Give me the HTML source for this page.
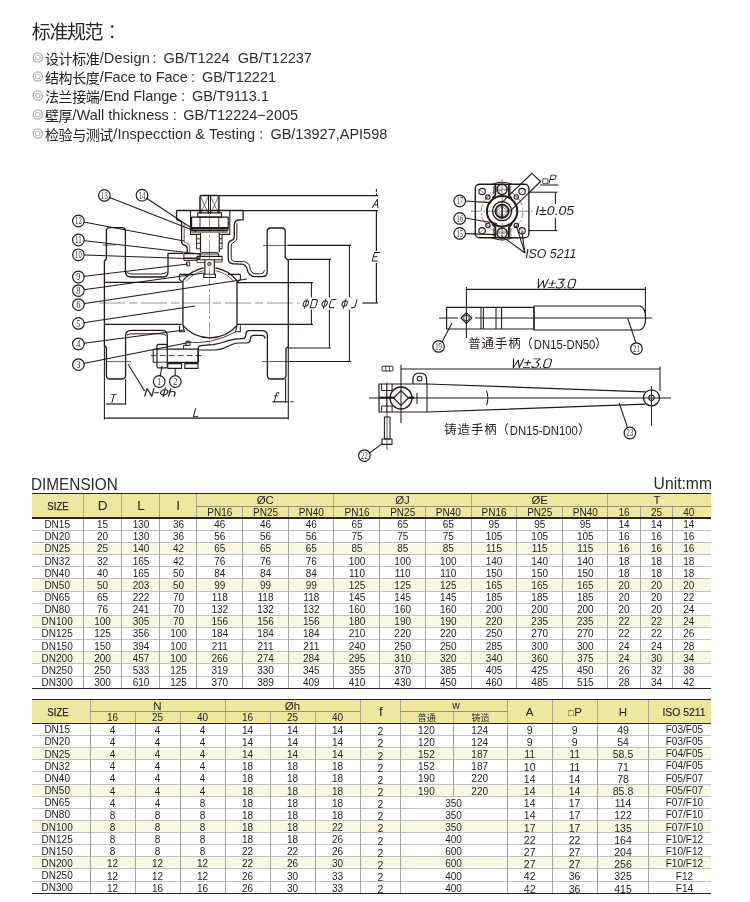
<!DOCTYPE html>
<html><head><meta charset="utf-8"><title>Ball valve spec</title>
<style>
html,body{margin:0;padding:0;background:#fff}
body{width:750px;height:902px;position:relative;overflow:hidden;will-change:transform;font-family:"Liberation Sans",sans-serif;color:#333}
.a{position:absolute;white-space:nowrap}
.t{position:absolute;white-space:nowrap;font-size:14.5px;line-height:18px;color:#2e2e2e}
.c{position:absolute;white-space:nowrap;text-align:center;transform:translateX(-50%);font-size:10px;line-height:12px;color:#1e1e1e}
.hd{position:absolute;background:#ede79f}
.sh{position:absolute;background:#f9f8e5}
.ln{position:absolute;background:#c0c0c0}
.dk{position:absolute;background:#2a2424}
.cj{position:absolute;white-space:nowrap;font-family:"Liberation Sans","Noto Sans CJK SC",sans-serif;font-size:14px;line-height:16.8px;letter-spacing:-0.42px;color:#202020}
</style></head><body>

<div class="a" style="left:31.8px;top:20.7px;font-family:'Liberation Sans','Noto Sans CJK SC',sans-serif;font-size:19px;line-height:24px;letter-spacing:-1.4px;color:#262626">标准规范</div>
<svg class="a" style="left:106px;top:24px" width="8" height="16" viewBox="0 0 8 16"><circle cx="6.2" cy="2.6" r="1.25" fill="#262626"/><circle cx="6.2" cy="13.0" r="1.25" fill="#262626"/></svg>
<svg class="a" style="left:32.4px;top:50.9px" width="12" height="13" viewBox="0 0 12 13"><circle cx="5.8" cy="6.5" r="4.6" fill="none" stroke="#b0b0b0" stroke-width="1.4"/><circle cx="5.8" cy="6.5" r="2.3" fill="none" stroke="#c2c2c2" stroke-width="1.1"/></svg>
<div class="cj" style="left:45.00px;top:50.58px">设计标准</div>
<div class="t" style="left:99.7px;top:48.8px;letter-spacing:0.15px">/Design</div>
<div class="t" style="left:152.4px;top:48.8px">:</div>
<div class="t" style="left:163.6px;top:48.8px">GB/T1224&nbsp; GB/T12237</div>
<svg class="a" style="left:32.4px;top:69.9px" width="12" height="13" viewBox="0 0 12 13"><circle cx="5.8" cy="6.5" r="4.6" fill="none" stroke="#b0b0b0" stroke-width="1.4"/><circle cx="5.8" cy="6.5" r="2.3" fill="none" stroke="#c2c2c2" stroke-width="1.1"/></svg>
<div class="cj" style="left:45.00px;top:69.58px">结构长度</div>
<div class="t" style="left:99.7px;top:67.8px;letter-spacing:-0.05px">/Face to Face</div>
<div class="t" style="left:190.9px;top:67.8px">:</div>
<div class="t" style="left:201.9px;top:67.8px">GB/T12221</div>
<svg class="a" style="left:32.4px;top:88.9px" width="12" height="13" viewBox="0 0 12 13"><circle cx="5.8" cy="6.5" r="4.6" fill="none" stroke="#b0b0b0" stroke-width="1.4"/><circle cx="5.8" cy="6.5" r="2.3" fill="none" stroke="#c2c2c2" stroke-width="1.1"/></svg>
<div class="cj" style="left:45.00px;top:88.58px">法兰接端</div>
<div class="t" style="left:99.7px;top:86.8px;letter-spacing:-0.05px">/End Flange</div>
<div class="t" style="left:180.9px;top:86.8px">:</div>
<div class="t" style="left:191.9px;top:86.8px">GB/T9113.1</div>
<svg class="a" style="left:32.4px;top:107.9px" width="12" height="13" viewBox="0 0 12 13"><circle cx="5.8" cy="6.5" r="4.6" fill="none" stroke="#b0b0b0" stroke-width="1.4"/><circle cx="5.8" cy="6.5" r="2.3" fill="none" stroke="#c2c2c2" stroke-width="1.1"/></svg>
<div class="cj" style="left:45.00px;top:107.58px">壁厚</div>
<div class="t" style="left:72.6px;top:105.8px;letter-spacing:0px">/Wall thickness</div>
<div class="t" style="left:172.7px;top:105.8px">:</div>
<div class="t" style="left:183.2px;top:105.8px">GB/T12224&#8722;2005</div>
<svg class="a" style="left:32.4px;top:127.1px" width="12" height="13" viewBox="0 0 12 13"><circle cx="5.8" cy="6.5" r="4.6" fill="none" stroke="#b0b0b0" stroke-width="1.4"/><circle cx="5.8" cy="6.5" r="2.3" fill="none" stroke="#c2c2c2" stroke-width="1.1"/></svg>
<div class="cj" style="left:45.00px;top:126.78px">检验与测试</div>
<div class="t" style="left:113.3px;top:125.0px;letter-spacing:0.05px">/Inspecction &amp; Testing</div>
<div class="t" style="left:259.2px;top:125.0px">:</div>
<div class="t" style="left:270.4px;top:125.0px">GB/13927,API598</div>
<svg class="a" style="left:0;top:0" width="750" height="902" viewBox="0 0 750 902" stroke-linecap="butt" stroke-linejoin="round">
<line x1="99" y1="303.0" x2="300" y2="303.0" stroke="#6e6662" stroke-width="0.71" stroke-dasharray="26 4 8 4"/>
<line x1="209.5" y1="214" x2="209.5" y2="345" stroke="#5a524e" stroke-width="0.59" stroke-dasharray="18 3 3 3"/>
<path d="M106.4,231 Q106.4,227.6 109.8,227.6 L122,227.6 Q125.4,227.6 125.4,231 L125.4,271 Q125.4,277 131.4,277 L163,277 Q168,277 168,272 L168,253.4 L183,253.4" fill="none" stroke="#231a17" stroke-width="1.30" />
<path d="M126.6,272.4 Q129,274 133,274 L160.5,274 Q164.6,274 166.8,272" fill="none" stroke="#231a17" stroke-width="1.00" />
<path d="M106.4,231 L106.4,259 L104.4,261 L104.4,345.5 L106.4,347.5 L106.4,375.6 Q106.4,379 109.8,379 L122,379 Q125.6,379 125.6,375.6 L125.6,336 Q125.6,330.4 131.2,330.4 L162,330.4 Q167.3,330.4 167.3,335.6 L167.3,349" fill="none" stroke="#231a17" stroke-width="1.30" />
<path d="M126.8,335.2 Q129,333.8 132.6,333.8 L160.4,333.8 Q164.2,333.8 166.2,335.6" fill="none" stroke="#231a17" stroke-width="1.00" />
<line x1="104.4" y1="282.4" x2="181.6" y2="282.4" stroke="#231a17" stroke-width="1.18"/>
<line x1="104.4" y1="324.4" x2="181.6" y2="324.4" stroke="#231a17" stroke-width="1.18"/>
<line x1="103" y1="245" x2="116" y2="245" stroke="#231a17" stroke-width="0.71"/>
<line x1="107" y1="361.6" x2="131" y2="361.6" stroke="#231a17" stroke-width="0.71"/>
<line x1="182.9" y1="281" x2="182.9" y2="325.5" stroke="#231a17" stroke-width="1.30"/>
<line x1="237" y1="281" x2="237" y2="325.5" stroke="#231a17" stroke-width="1.30"/>
<path d="M182.9,280.6 A35.7,35.7 0 0 1 203.8,267.8" fill="none" stroke="#231a17" stroke-width="1.30" />
<path d="M215.4,267.8 A35.7,35.7 0 0 1 237,280.6" fill="none" stroke="#231a17" stroke-width="1.30" />
<path d="M182.9,325.4 A35.7,35.7 0 0 0 237,325.4" fill="none" stroke="#231a17" stroke-width="1.30" />
<path d="M186,281.6 A33,33 0 0 1 203.8,270.6" fill="none" stroke="#231a17" stroke-width="0.71" />
<path d="M215.4,270.6 A33,33 0 0 1 234,281.6" fill="none" stroke="#231a17" stroke-width="0.71" />
<path d="M179.4,274.4 L179.4,279.5 L182.9,282.4 M179.4,274.4 L193,274.4" fill="none" stroke="#231a17" stroke-width="1.06" />
<path d="M240.4,274.4 L240.4,279.5 L237,282.4 M240.4,274.4 L228,274.4" fill="none" stroke="#231a17" stroke-width="1.06" />
<path d="M179.5,325.6 L179.5,331.8 L184.5,331.8 L182.9,325.6" fill="none" stroke="#231a17" stroke-width="1.06" />
<path d="M240.3,325.6 L240.3,331.8 L235.5,331.8 L237,325.6" fill="none" stroke="#231a17" stroke-width="1.06" />
<line x1="237" y1="282.6" x2="313" y2="282.6" stroke="#231a17" stroke-width="1.18"/>
<line x1="237" y1="324.4" x2="313" y2="324.4" stroke="#231a17" stroke-width="1.18"/>
<path d="M243.1,210.5 L243.1,219.6 L238.5,220 Q234.3,220.6 234.3,225 L234.3,236.4 Q234.3,239.4 231.6,240.4 Q228.2,241.6 228.2,245 L228.2,258.6 Q228.2,263.8 233.4,263.9 L241.5,264.1 Q246,264.4 247,268.6 Q248.4,276.6 255,276.6 L262,276.6 Q267.2,276.6 267.2,271.4 L267.2,231.4 Q267.2,228 270.6,228 L281.8,228 Q285.2,228 285.2,231.4 L285.2,257.6 L288.3,260.4 L288.3,346.4 L286,348.4 L286,375.6 Q286,379 282.6,379 L270.8,379 Q267.4,379 267.4,375.6 L267.4,336 Q267.4,330.7 262,330.7 L249.2,330.7 Q246.4,330.7 246.1,333 L245.6,336 Q245.3,338.5 242.7,338.7 L234.6,339.2 Q229,340.2 224,342 Q219,343.8 213.3,344.7 L203,345.3 Q199.6,345.6 198.3,346.8" fill="none" stroke="#231a17" stroke-width="1.30" />
<path d="M236.9,223.2 L236.9,237.6 Q236.9,240.8 234.2,242 Q231.2,243.2 231.2,246 L231.2,257.4 Q231.2,261.4 235.4,261.5 L243.5,261.7 Q248.6,262 249.6,266.6 Q250.6,273.8 256,273.8 L260.4,273.8 Q264.4,273.8 264.4,270" fill="none" stroke="#231a17" stroke-width="1.00" />
<path d="M198.3,350 L214.7,350 Q220,349.6 224.6,347.8 Q229.4,345.6 233.3,344 Q236,343 238.7,343 L246.7,343 Q250,342.8 250.3,340 L250.7,337.6 Q251,335.3 253.8,335.3 L261.4,335.3 Q264.9,335.3 265.1,338.6" fill="none" stroke="#231a17" stroke-width="1.24" />
<line x1="198.3" y1="346.8" x2="198.3" y2="362.4" stroke="#231a17" stroke-width="1.18"/>
<path d="M187,342 Q209.6,345.4 235.6,332" fill="none" stroke="#231a17" stroke-width="0.83" />
<rect x="186" y="341.3" width="4" height="4" rx="0" fill="none" stroke="#231a17" stroke-width="1.00"/>
<path d="M186,345.3 L183.6,345.3 L183.6,348.8" fill="none" stroke="#231a17" stroke-width="1.00" />
<line x1="263" y1="245.4" x2="351" y2="245.4" stroke="#231a17" stroke-width="0.71"/>
<line x1="262" y1="361.5" x2="351" y2="361.5" stroke="#231a17" stroke-width="0.71"/>
<line x1="176.6" y1="210.5" x2="243.1" y2="210.5" stroke="#231a17" stroke-width="1.30"/>
<path d="M177.4,210.5 Q176.6,210.5 176.6,211.6 L176.6,219.4 L181.6,221.8 L181.6,241.6 Q181.6,244.6 184.4,245.2 Q187.2,245.8 187.2,248.4 L187.2,252.4" fill="none" stroke="#231a17" stroke-width="1.30" />
<path d="M184.2,223.4 L184.2,240.8 Q184.2,242.8 186.8,243.4 Q189.8,244 189.8,246.6 L189.8,252" fill="none" stroke="#231a17" stroke-width="0.71" />
<path d="M190.5,210.5 L190.5,234.4 L199.4,234.4 M229.8,210.5 L229.8,234.4 L222.1,234.4" fill="none" stroke="#231a17" stroke-width="1.06" />
<path d="M199.9,213 L199.9,197 Q199.9,195.5 201.4,195.5 L217.5,195.5 Q219,195.5 219,197 L219,213" fill="none" stroke="#231a17" stroke-width="1.30" />
<line x1="200.6" y1="196.6" x2="208.2" y2="213.4" stroke="#231a17" stroke-width="0.59"/>
<line x1="208.2" y1="196.6" x2="200.6" y2="213.4" stroke="#231a17" stroke-width="0.59"/>
<line x1="210.6" y1="196.6" x2="218.4" y2="213.4" stroke="#231a17" stroke-width="0.59"/>
<line x1="218.4" y1="196.6" x2="210.6" y2="213.4" stroke="#231a17" stroke-width="0.59"/>
<line x1="208.5" y1="196" x2="208.5" y2="214" stroke="#231a17" stroke-width="1.06"/>
<line x1="210.4" y1="196" x2="210.4" y2="214" stroke="#231a17" stroke-width="1.06"/>
<line x1="200.7" y1="196" x2="200.7" y2="213.5" stroke="#231a17" stroke-width="0.59"/>
<line x1="218.3" y1="196" x2="218.3" y2="213.5" stroke="#231a17" stroke-width="0.59"/>
<rect x="197.7" y="212.9" width="23.8" height="4.2" rx="0" fill="none" stroke="#231a17" stroke-width="1.06"/>
<rect x="191.6" y="217.1" width="36.6" height="10.6" rx="0" fill="none" stroke="#231a17" stroke-width="1.18"/>
<line x1="200" y1="217.1" x2="200" y2="227.7" stroke="#231a17" stroke-width="0.94"/>
<line x1="218.8" y1="217.1" x2="218.8" y2="227.7" stroke="#231a17" stroke-width="0.94"/>
<line x1="189.8" y1="228.6" x2="228.9" y2="228.6" stroke="#231a17" stroke-width="1.53"/>
<line x1="190.4" y1="230.3" x2="228.4" y2="230.3" stroke="#231a17" stroke-width="1.53"/>
<line x1="191.2" y1="232" x2="227.6" y2="232" stroke="#231a17" stroke-width="1.18"/>
<line x1="200.5" y1="233" x2="200.5" y2="252.4" stroke="#231a17" stroke-width="1.18"/>
<line x1="219.3" y1="233" x2="219.3" y2="252.4" stroke="#231a17" stroke-width="1.18"/>
<path d="M200.5,234.4 L196.6,234.4 L196.6,248.8 L200.5,248.8 M196.6,238.8 L200.5,238.8 M196.6,243.2 L200.5,243.2" fill="none" stroke="#231a17" stroke-width="0.94" />
<path d="M219.3,234.4 L222.1,234.4 L222.1,248.8 L219.3,248.8 M219.3,238.8 L222.1,238.8 M219.3,243.2 L222.1,243.2" fill="none" stroke="#231a17" stroke-width="0.94" />
<path d="M201.6,252.4 L217.2,252.4 M200.2,254 L218.6,254 M201.6,252.4 L200.2,254 M217.2,252.4 L218.6,254 M200.2,254 L200.2,256.4 M218.6,254 L218.6,256.4" fill="none" stroke="#231a17" stroke-width="0.94" />
<rect x="183.9" y="253.6" width="16.2" height="4.5" rx="0" fill="none" stroke="#231a17" stroke-width="1.06"/>
<rect x="197.1" y="256.4" width="25" height="3.4" rx="0" fill="none" stroke="#231a17" stroke-width="1.06"/>
<path d="M183.9,258.1 L183.9,260.4 L197,260.4" fill="none" stroke="#231a17" stroke-width="0.94" />
<path d="M204.9,259.8 L204.9,274.2 L203.8,274.2 L203.8,277.5 L215.4,277.5 L215.4,274.2 L214.3,274.2 L214.3,259.8" fill="none" stroke="#231a17" stroke-width="1.18" />
<line x1="204.9" y1="274.2" x2="214.3" y2="274.2" stroke="#231a17" stroke-width="0.83"/>
<circle cx="209.4" cy="264" r="1.7" fill="none" stroke="#231a17" stroke-width="0.94"/>
<rect x="186.6" y="262" width="3.1" height="3.9" rx="0" fill="none" stroke="#231a17" stroke-width="0.94"/>
<path d="M197.1,259.8 L197.1,262.6 L204.9,262.6 M222.1,259.8 L222.1,262 L214.3,262" fill="none" stroke="#231a17" stroke-width="0.83" />
<rect x="157" y="344.4" width="10.3" height="23.5" rx="1.2" fill="none" stroke="#231a17" stroke-width="1.18"/>
<line x1="157" y1="349.2" x2="167.3" y2="349.2" stroke="#231a17" stroke-width="0.83"/>
<line x1="157" y1="362.2" x2="167.3" y2="362.2" stroke="#231a17" stroke-width="0.83"/>
<path d="M157,349.2 L153.2,349.2 L153.2,362.2 L157,362.2" fill="none" stroke="#231a17" stroke-width="1.06" />
<path d="M167.3,349.1 L198,349.1 L198,362.4 L167.3,362.4" fill="none" stroke="#231a17" stroke-width="1.18" />
<line x1="150.7" y1="355.6" x2="205" y2="355.6" stroke="#231a17" stroke-width="0.83" stroke-dasharray="6 3"/>
<rect x="167.8" y="363.6" width="13.8" height="4.8" rx="0" fill="none" stroke="#231a17" stroke-width="1.06"/>
<rect x="184.8" y="363.6" width="13.2" height="4.8" rx="0" fill="none" stroke="#231a17" stroke-width="1.06"/>
<line x1="219" y1="195.6" x2="378" y2="195.6" stroke="#231a17" stroke-width="1.18"/>
<line x1="243.1" y1="210.6" x2="378" y2="210.6" stroke="#231a17" stroke-width="1.18"/>
<line x1="376.4" y1="189" x2="376.4" y2="196" stroke="#231a17" stroke-width="1.06" stroke-dasharray="3 1.5"/>
<line x1="376.4" y1="210.6" x2="376.4" y2="251" stroke="#231a17" stroke-width="1.18"/>
<line x1="376.4" y1="263" x2="376.4" y2="303" stroke="#231a17" stroke-width="1.18"/>
<line x1="362.4" y1="303" x2="378" y2="303" stroke="#231a17" stroke-width="1.18"/>
<g transform="translate(372.20 207.60) skewX(-15) scale(0.8300 0.8300) translate(0 -10)" fill="none" stroke="#231a17" stroke-width="1.145" stroke-linecap="round" stroke-linejoin="round"><path transform="translate(0.00 0)" d="M0,10 L3.4,0 L6.8,10 M1.2,6.6 L5.6,6.6"/></g>
<g transform="translate(372.20 261.00) skewX(-15) scale(0.8500 0.8500) translate(0 -10)" fill="none" stroke="#231a17" stroke-width="1.118" stroke-linecap="round" stroke-linejoin="round"><path transform="translate(0.00 0)" d="M6,0 L0,0 L0,10 L6,10 M0,5 L4.6,5"/></g>
<line x1="288.3" y1="245.4" x2="351" y2="245.4" stroke="#231a17" stroke-width="1.06"/>
<line x1="349.4" y1="246" x2="349.4" y2="297.4" stroke="#231a17" stroke-width="1.06"/>
<line x1="349.4" y1="309.5" x2="349.4" y2="361" stroke="#231a17" stroke-width="1.06"/>
<line x1="288.3" y1="361.5" x2="351" y2="361.5" stroke="#231a17" stroke-width="1.06"/>
<line x1="288.3" y1="259.4" x2="331" y2="259.4" stroke="#231a17" stroke-width="1.06"/>
<line x1="329.4" y1="260" x2="329.4" y2="297.4" stroke="#231a17" stroke-width="1.06"/>
<line x1="329.4" y1="309.5" x2="329.4" y2="347.6" stroke="#231a17" stroke-width="1.06"/>
<line x1="288.3" y1="348" x2="331" y2="348" stroke="#231a17" stroke-width="1.06"/>
<line x1="311.4" y1="283" x2="311.4" y2="297.4" stroke="#231a17" stroke-width="1.06"/>
<line x1="311.4" y1="309.5" x2="311.4" y2="324" stroke="#231a17" stroke-width="1.06"/>
<g transform="translate(302.20 307.80) skewX(-15) scale(0.8400 0.8400) translate(0 -10)" fill="none" stroke="#231a17" stroke-width="1.131" stroke-linecap="round" stroke-linejoin="round"><path transform="translate(0.00 0)" d="M3,-0.8 L3,10.8 M3,1.6 Q6,1.6 6,5 Q6,8.4 3,8.4 Q0,8.4 0,5 Q0,1.6 3,1.6 Z"/></g>
<g transform="translate(310.20 307.80) skewX(-15) scale(0.8400 0.8400) translate(0 -10)" fill="none" stroke="#231a17" stroke-width="1.131" stroke-linecap="round" stroke-linejoin="round"><path transform="translate(0.00 0)" d="M0,0 L0,10 L3.8,10 Q6.4,10 6.4,7.4 L6.4,2.6 Q6.4,0 3.8,0 Z"/></g>
<g transform="translate(321.00 307.80) skewX(-15) scale(0.8400 0.8400) translate(0 -10)" fill="none" stroke="#231a17" stroke-width="1.131" stroke-linecap="round" stroke-linejoin="round"><path transform="translate(0.00 0)" d="M3,-0.8 L3,10.8 M3,1.6 Q6,1.6 6,5 Q6,8.4 3,8.4 Q0,8.4 0,5 Q0,1.6 3,1.6 Z"/></g>
<g transform="translate(329.00 307.80) skewX(-15) scale(0.8400 0.8400) translate(0 -10)" fill="none" stroke="#231a17" stroke-width="1.131" stroke-linecap="round" stroke-linejoin="round"><path transform="translate(0.00 0)" d="M6,0 L2.2,0 Q0,0 0,2.2 L0,7.8 Q0,10 2.2,10 L6,10"/></g>
<g transform="translate(341.00 307.80) skewX(-15) scale(0.8400 0.8400) translate(0 -10)" fill="none" stroke="#231a17" stroke-width="1.131" stroke-linecap="round" stroke-linejoin="round"><path transform="translate(0.00 0)" d="M3,-0.8 L3,10.8 M3,1.6 Q6,1.6 6,5 Q6,8.4 3,8.4 Q0,8.4 0,5 Q0,1.6 3,1.6 Z"/></g>
<g transform="translate(350.60 307.80) skewX(-15) scale(0.8400 0.8400) translate(0 -10)" fill="none" stroke="#231a17" stroke-width="1.131" stroke-linecap="round" stroke-linejoin="round"><path transform="translate(0.00 0)" d="M5,0 L5,7.8 Q5,10 2.8,10 L0.6,10"/></g>
<line x1="104.4" y1="345" x2="104.4" y2="419.6" stroke="#231a17" stroke-width="1.06"/>
<line x1="288.3" y1="346" x2="288.3" y2="419.6" stroke="#231a17" stroke-width="1.06"/>
<line x1="104.4" y1="418.2" x2="288.3" y2="418.2" stroke="#231a17" stroke-width="1.18"/>
<g transform="translate(193.40 416.80) skewX(-15) scale(0.8200 0.8200) translate(0 -10)" fill="none" stroke="#231a17" stroke-width="1.159" stroke-linecap="round" stroke-linejoin="round"><path transform="translate(0.00 0)" d="M0,0 L0,10 L5.6,10"/></g>
<line x1="125.6" y1="379" x2="125.6" y2="404.6" stroke="#231a17" stroke-width="1.06"/>
<line x1="106" y1="404" x2="125.6" y2="404" stroke="#231a17" stroke-width="1.18"/>
<g transform="translate(109.20 402.60) skewX(-15) scale(0.8000 0.8000) translate(0 -10)" fill="none" stroke="#231a17" stroke-width="1.187" stroke-linecap="round" stroke-linejoin="round"><path transform="translate(0.00 0)" d="M0,0 L6.8,0 M3.4,0 L3.4,10"/></g>
<line x1="285.6" y1="379" x2="285.6" y2="403" stroke="#231a17" stroke-width="1.06"/>
<line x1="272.4" y1="401.8" x2="285.6" y2="401.8" stroke="#231a17" stroke-width="1.18"/>
<line x1="286" y1="401.8" x2="295" y2="401.8" stroke="#231a17" stroke-width="1.06" stroke-dasharray="3 1.5"/>
<g transform="translate(272.40 401.20) skewX(-15) scale(0.8600 0.8600) translate(0 -10)" fill="none" stroke="#231a17" stroke-width="1.105" stroke-linecap="round" stroke-linejoin="round"><path transform="translate(0.00 0)" d="M5,0.6 Q4.8,0 4,0 Q2.4,0 2.4,2 L2.4,10 M0.4,3.8 L4.6,3.8"/></g>
<line x1="128" y1="364" x2="144.6" y2="391" stroke="#231a17" stroke-width="1.06"/>
<g transform="translate(144.80 396.20) skewX(-15) scale(1.1667 0.7800) translate(0 -10)" fill="none" stroke="#231a17" stroke-width="1.090" stroke-linecap="round" stroke-linejoin="round"><path transform="translate(0.00 0)" d="M0,10 L0,0 L6,10 L6,0"/><path transform="translate(7.60 0)" d="M0,5.6 L3.6,5.6"/><path transform="translate(12.80 0)" d="M3,-0.8 L3,10.8 M3,1.6 Q6,1.6 6,5 Q6,8.4 3,8.4 Q0,8.4 0,5 Q0,1.6 3,1.6 Z"/><path transform="translate(20.40 0)" d="M0,0 L0,10 M0,6.2 Q0,4 2.4,4 Q4.8,4 4.8,6.2 L4.8,10"/></g>
<line x1="104.4" y1="195.4" x2="196" y2="231.4" stroke="#231a17" stroke-width="1.06"/>
<line x1="142" y1="195.2" x2="193.4" y2="229.2" stroke="#231a17" stroke-width="1.06"/>
<line x1="78.4" y1="221" x2="184" y2="241" stroke="#231a17" stroke-width="1.06"/>
<line x1="78.4" y1="240" x2="200" y2="254" stroke="#231a17" stroke-width="1.06"/>
<line x1="78.4" y1="254.8" x2="200" y2="259" stroke="#231a17" stroke-width="1.06"/>
<line x1="78.4" y1="277" x2="188" y2="264" stroke="#231a17" stroke-width="1.06"/>
<line x1="78.4" y1="290.6" x2="204" y2="273" stroke="#231a17" stroke-width="1.06"/>
<line x1="78.4" y1="304.6" x2="247" y2="279" stroke="#231a17" stroke-width="1.06"/>
<line x1="78.4" y1="323.4" x2="195" y2="306" stroke="#231a17" stroke-width="1.06"/>
<line x1="78.4" y1="344" x2="184" y2="330" stroke="#231a17" stroke-width="1.06"/>
<line x1="78.4" y1="364.6" x2="189" y2="342.6" stroke="#231a17" stroke-width="1.06"/>
<circle cx="104.4" cy="195.4" r="5.8" fill="#fff" stroke="#231a17" stroke-width="1.18"/>
<text x="104.4" y="198.70000000000002" font-family="Liberation Serif" font-size="9.4" text-anchor="middle" fill="#3a322e" textLength="6.6" lengthAdjust="spacingAndGlyphs">13</text>
<circle cx="142" cy="195.2" r="5.8" fill="#fff" stroke="#231a17" stroke-width="1.18"/>
<text x="142" y="198.5" font-family="Liberation Serif" font-size="9.4" text-anchor="middle" fill="#3a322e" textLength="6.6" lengthAdjust="spacingAndGlyphs">14</text>
<circle cx="78.4" cy="221" r="5.8" fill="#fff" stroke="#231a17" stroke-width="1.18"/>
<text x="78.4" y="224.3" font-family="Liberation Serif" font-size="9.4" text-anchor="middle" fill="#3a322e" textLength="6.6" lengthAdjust="spacingAndGlyphs">12</text>
<circle cx="78.4" cy="240" r="5.8" fill="#fff" stroke="#231a17" stroke-width="1.18"/>
<text x="78.4" y="243.3" font-family="Liberation Serif" font-size="9.4" text-anchor="middle" fill="#3a322e" textLength="6.6" lengthAdjust="spacingAndGlyphs">11</text>
<circle cx="78.4" cy="254.8" r="5.8" fill="#fff" stroke="#231a17" stroke-width="1.18"/>
<text x="78.4" y="258.1" font-family="Liberation Serif" font-size="9.4" text-anchor="middle" fill="#3a322e" textLength="6.6" lengthAdjust="spacingAndGlyphs">10</text>
<circle cx="78.4" cy="277" r="5.8" fill="#fff" stroke="#231a17" stroke-width="1.18"/>
<text x="78.4" y="280.3" font-family="Liberation Serif" font-size="9.4" text-anchor="middle" fill="#3a322e" textLength="4.2" lengthAdjust="spacingAndGlyphs">9</text>
<circle cx="78.4" cy="290.6" r="5.8" fill="#fff" stroke="#231a17" stroke-width="1.18"/>
<text x="78.4" y="293.90000000000003" font-family="Liberation Serif" font-size="9.4" text-anchor="middle" fill="#3a322e" textLength="4.2" lengthAdjust="spacingAndGlyphs">8</text>
<circle cx="78.4" cy="304.6" r="5.8" fill="#fff" stroke="#231a17" stroke-width="1.18"/>
<text x="78.4" y="307.90000000000003" font-family="Liberation Serif" font-size="9.4" text-anchor="middle" fill="#3a322e" textLength="4.2" lengthAdjust="spacingAndGlyphs">6</text>
<circle cx="78.4" cy="323.4" r="5.8" fill="#fff" stroke="#231a17" stroke-width="1.18"/>
<text x="78.4" y="326.7" font-family="Liberation Serif" font-size="9.4" text-anchor="middle" fill="#3a322e" textLength="4.2" lengthAdjust="spacingAndGlyphs">5</text>
<circle cx="78.4" cy="344" r="5.8" fill="#fff" stroke="#231a17" stroke-width="1.18"/>
<text x="78.4" y="347.3" font-family="Liberation Serif" font-size="9.4" text-anchor="middle" fill="#3a322e" textLength="4.2" lengthAdjust="spacingAndGlyphs">4</text>
<circle cx="78.4" cy="364.6" r="5.8" fill="#fff" stroke="#231a17" stroke-width="1.18"/>
<text x="78.4" y="367.90000000000003" font-family="Liberation Serif" font-size="9.4" text-anchor="middle" fill="#3a322e" textLength="4.2" lengthAdjust="spacingAndGlyphs">3</text>
<line x1="160.3" y1="375.8" x2="162" y2="365.8" stroke="#231a17" stroke-width="1.06"/>
<line x1="175.2" y1="375.8" x2="175.2" y2="368.4" stroke="#231a17" stroke-width="1.06"/>
<circle cx="159.2" cy="381.5" r="5.8" fill="#fff" stroke="#231a17" stroke-width="1.18"/>
<text x="159.2" y="384.8" font-family="Liberation Serif" font-size="9.4" text-anchor="middle" fill="#3a322e" textLength="4.2" lengthAdjust="spacingAndGlyphs">1</text>
<circle cx="175.3" cy="381.5" r="5.8" fill="#fff" stroke="#231a17" stroke-width="1.18"/>
<text x="175.3" y="384.8" font-family="Liberation Serif" font-size="9.4" text-anchor="middle" fill="#3a322e" textLength="4.2" lengthAdjust="spacingAndGlyphs">2</text>
<rect x="475.3" y="184.2" width="53.6" height="53.6" rx="4.4" fill="none" stroke="#231a17" stroke-width="1.36"/>
<line x1="471" y1="211.2" x2="533.5" y2="211.2" stroke="#231a17" stroke-width="0.53" stroke-dasharray="10 2 2 2"/>
<line x1="502.1" y1="179" x2="502.1" y2="243.5" stroke="#231a17" stroke-width="0.53" stroke-dasharray="10 2 2 2"/>
<circle cx="502.1" cy="211.2" r="20.8" fill="none" stroke="#231a17" stroke-width="0.5" stroke-dasharray="7 2 2 2"/>
<path d="M491.4,184.6 Q502.1,179.8 512.8,184.6" fill="none" stroke="#231a17" stroke-width="0.94" />
<path d="M491.4,237.6 Q502.1,242.4 512.8,237.6" fill="none" stroke="#231a17" stroke-width="0.94" />
<path d="M495.3,184.4 L495.3,195 L492.4,198.6 M508.9,184.4 L508.9,195 L511.8,198.6 M495.3,237.8 L495.3,227.4 L492.4,223.8 M508.9,237.8 L508.9,227.4 L511.8,223.8" fill="none" stroke="#231a17" stroke-width="1.89" />
<path d="M493.4,186 L493.4,194.4 M510.8,186 L510.8,194.4 M493.4,236.4 L493.4,228 M510.8,236.4 L510.8,228" fill="none" stroke="#231a17" stroke-width="0.59" />
<circle cx="502.1" cy="211.2" r="15.2" fill="none" stroke="#231a17" stroke-width="2.01"/>
<circle cx="502.1" cy="211.2" r="9.5" fill="none" stroke="#231a17" stroke-width="1.30"/>
<circle cx="502.1" cy="211.2" r="6.7" fill="none" stroke="#231a17" stroke-width="1.65"/>
<circle cx="502.1" cy="211.2" r="5.5" fill="none" stroke="#231a17" stroke-width="0.59"/>
<path d="M502.1,206.0 L507.3,211.2 L502.1,216.39999999999998 L496.90000000000003,211.2 Z" fill="none" stroke="#231a17" stroke-width="0.47" />
<line x1="502.1" y1="204.2" x2="502.1" y2="218.2" stroke="#231a17" stroke-width="1.53"/>
<circle cx="502.1" cy="189.3" r="5.1" fill="none" stroke="#231a17" stroke-width="1.42"/>
<circle cx="502.1" cy="233.1" r="5.1" fill="none" stroke="#231a17" stroke-width="1.42"/>
<line x1="497.4" y1="189.3" x2="506.8" y2="189.3" stroke="#231a17" stroke-width="0.53"/>
<line x1="497.4" y1="233.1" x2="506.8" y2="233.1" stroke="#231a17" stroke-width="0.53"/>
<circle cx="482.1" cy="191.6" r="3.2" fill="none" stroke="#231a17" stroke-width="1.12"/>
<circle cx="487.90000000000003" cy="197.0" r="2.2" fill="none" stroke="#231a17" stroke-width="1.12"/>
<line x1="483.70000000000005" y1="193.29999999999998" x2="480.5" y2="189.89999999999998" stroke="#231a17" stroke-width="0.53"/>
<line x1="489.70000000000005" y1="195.2" x2="484.70000000000005" y2="200.2" stroke="#231a17" stroke-width="0.47"/>
<circle cx="522.1" cy="191.6" r="3.2" fill="none" stroke="#231a17" stroke-width="1.12"/>
<circle cx="516.3000000000001" cy="197.0" r="2.2" fill="none" stroke="#231a17" stroke-width="1.12"/>
<line x1="520.5" y1="193.29999999999998" x2="523.7" y2="189.89999999999998" stroke="#231a17" stroke-width="0.53"/>
<line x1="514.5" y1="195.2" x2="519.5" y2="200.2" stroke="#231a17" stroke-width="0.47"/>
<circle cx="482.1" cy="230.79999999999998" r="3.2" fill="none" stroke="#231a17" stroke-width="1.12"/>
<circle cx="487.90000000000003" cy="225.39999999999998" r="2.2" fill="none" stroke="#231a17" stroke-width="1.12"/>
<line x1="483.70000000000005" y1="229.1" x2="480.5" y2="232.5" stroke="#231a17" stroke-width="0.53"/>
<line x1="489.70000000000005" y1="227.2" x2="484.70000000000005" y2="222.2" stroke="#231a17" stroke-width="0.47"/>
<circle cx="522.1" cy="230.79999999999998" r="3.2" fill="none" stroke="#231a17" stroke-width="1.12"/>
<circle cx="516.3000000000001" cy="225.39999999999998" r="2.2" fill="none" stroke="#231a17" stroke-width="1.12"/>
<line x1="520.5" y1="229.1" x2="523.7" y2="232.5" stroke="#231a17" stroke-width="0.53"/>
<line x1="514.5" y1="227.2" x2="519.5" y2="222.2" stroke="#231a17" stroke-width="0.47"/>
<line x1="501.8" y1="202.6" x2="532.2" y2="173" stroke="#231a17" stroke-width="1.06"/>
<line x1="510.6" y1="210.6" x2="541" y2="181" stroke="#231a17" stroke-width="1.06"/>
<line x1="532.2" y1="173.6" x2="541" y2="182" stroke="#231a17" stroke-width="1.06"/>
<line x1="540.2" y1="185" x2="558.6" y2="185" stroke="#231a17" stroke-width="1.06"/>
<rect x="542.8" y="178.8" width="5.2" height="4.6" rx="0" fill="none" stroke="#231a17" stroke-width="0.71"/>
<g transform="translate(549.00 183.50) skewX(-15) scale(0.8400 0.8400) translate(0 -10)" fill="none" stroke="#231a17" stroke-width="1.071" stroke-linecap="round" stroke-linejoin="round"><path transform="translate(0.00 0)" d="M0,10 L0,0 L3.8,0 Q6.2,0 6.2,2.6 Q6.2,5.2 3.8,5.2 L0,5.2"/></g>
<line x1="529" y1="192.2" x2="557.4" y2="192.2" stroke="#231a17" stroke-width="1.06"/>
<line x1="529" y1="230.6" x2="557.4" y2="230.6" stroke="#231a17" stroke-width="1.06"/>
<line x1="555.4" y1="192.2" x2="555.4" y2="204" stroke="#231a17" stroke-width="1.06"/>
<line x1="555.4" y1="218" x2="555.4" y2="230.6" stroke="#231a17" stroke-width="1.06"/>
<text x="535.2" y="215.4" font-family="Liberation Sans" font-size="12" font-style="italic" text-anchor="start" fill="#231a17" textLength="39" lengthAdjust="spacingAndGlyphs">I&#177;0.05</text>
<line x1="525" y1="253" x2="501" y2="235.6" stroke="#231a17" stroke-width="1.06"/>
<line x1="525" y1="253" x2="516.2" y2="225.6" stroke="#231a17" stroke-width="1.06"/>
<line x1="525" y1="253" x2="521.8" y2="231.4" stroke="#231a17" stroke-width="1.06"/>
<text x="525.2" y="257.8" font-family="Liberation Sans" font-size="12" font-style="italic" text-anchor="start" fill="#231a17" textLength="51.2" lengthAdjust="spacingAndGlyphs">ISO 5211</text>
<line x1="465.3" y1="201" x2="491.4" y2="202.6" stroke="#231a17" stroke-width="1.06"/>
<line x1="465.3" y1="218" x2="497" y2="223.4" stroke="#231a17" stroke-width="1.06"/>
<line x1="465.3" y1="233.6" x2="496.2" y2="234.6" stroke="#231a17" stroke-width="1.06"/>
<circle cx="459.7" cy="201" r="5.8" fill="#fff" stroke="#231a17" stroke-width="1.18"/>
<text x="459.7" y="204.3" font-family="Liberation Serif" font-size="9.4" text-anchor="middle" fill="#3a322e" textLength="6.6" lengthAdjust="spacingAndGlyphs">17</text>
<circle cx="459.7" cy="218.4" r="5.8" fill="#fff" stroke="#231a17" stroke-width="1.18"/>
<text x="459.7" y="221.70000000000002" font-family="Liberation Serif" font-size="9.4" text-anchor="middle" fill="#3a322e" textLength="6.6" lengthAdjust="spacingAndGlyphs">16</text>
<circle cx="459.7" cy="233.4" r="5.8" fill="#fff" stroke="#231a17" stroke-width="1.18"/>
<text x="459.7" y="236.70000000000002" font-family="Liberation Serif" font-size="9.4" text-anchor="middle" fill="#3a322e" textLength="6.6" lengthAdjust="spacingAndGlyphs">15</text>
<g transform="translate(536.20 288.00) skewX(-15) scale(1.1257 0.8800) translate(0 -10)" fill="none" stroke="#231a17" stroke-width="0.966" stroke-linecap="round" stroke-linejoin="round"><path transform="translate(0.00 0)" d="M0,0 L1.8,10 L4.4,1.5 L7,10 L8.8,0"/><path transform="translate(10.40 0)" d="M0,4.4 L5.6,4.4 M2.8,1.4 L2.8,7.4 M0,9.6 L5.6,9.6"/><path transform="translate(17.60 0)" d="M0,0 L5.6,0 L2.8,4 Q5.6,4 5.6,7 Q5.6,10 3.2,10 L2.2,10 Q0,10 0,8.2"/><path transform="translate(24.80 0)" d="M0.5,9.2 L0.5,10"/><path transform="translate(27.80 0)" d="M2.2,0 L3.4,0 Q5.6,0 5.6,2.4 L5.6,7.6 Q5.6,10 3.4,10 L2.2,10 Q0,10 0,7.6 L0,2.4 Q0,0 2.2,0 Z"/></g>
<line x1="466.4" y1="289.4" x2="645.4" y2="289.4" stroke="#231a17" stroke-width="1.18"/>
<line x1="466.4" y1="287" x2="466.4" y2="338" stroke="#231a17" stroke-width="1.06"/>
<line x1="645.4" y1="287" x2="645.4" y2="318" stroke="#231a17" stroke-width="1.06"/>
<path d="M446.6,307.4 L534,307.4 L534,329 L446.6,329 Z" fill="none" stroke="#231a17" stroke-width="1.18" />
<path d="M534,306 L640,306 Q645.6,308 645.6,318 Q645.6,328 640,330 L534,330 Z" fill="none" stroke="#231a17" stroke-width="1.18" />
<line x1="439" y1="318" x2="458" y2="318" stroke="#231a17" stroke-width="1.00"/>
<line x1="475" y1="318" x2="652" y2="318" stroke="#231a17" stroke-width="1.00"/>
<path d="M466.4,312.6 L471.8,318 L466.4,323.4 L461,318 Z" fill="none" stroke="#231a17" stroke-width="1.18" />
<circle cx="466.4" cy="318" r="2.8" fill="none" stroke="#231a17" stroke-width="0.83"/>
<line x1="481" y1="307.4" x2="481" y2="329" stroke="#231a17" stroke-width="1.06"/>
<line x1="483.4" y1="307.4" x2="483.4" y2="329" stroke="#231a17" stroke-width="1.06"/>
<line x1="496" y1="307.4" x2="496" y2="329" stroke="#231a17" stroke-width="1.06"/>
<line x1="501.6" y1="307.4" x2="501.6" y2="329" stroke="#231a17" stroke-width="1.06"/>
<line x1="442" y1="342" x2="452" y2="323" stroke="#231a17" stroke-width="1.06"/>
<circle cx="438.6" cy="346.4" r="5.8" fill="#fff" stroke="#231a17" stroke-width="1.18"/>
<text x="438.6" y="349.7" font-family="Liberation Serif" font-size="9.4" text-anchor="middle" fill="#3a322e" textLength="6.6" lengthAdjust="spacingAndGlyphs">19</text>
<line x1="636" y1="343.2" x2="627.6" y2="318" stroke="#231a17" stroke-width="1.06"/>
<circle cx="636.4" cy="348.6" r="5.8" fill="#fff" stroke="#231a17" stroke-width="1.18"/>
<text x="636.4" y="351.90000000000003" font-family="Liberation Serif" font-size="9.4" text-anchor="middle" fill="#3a322e" textLength="6.6" lengthAdjust="spacingAndGlyphs">21</text>
<g transform="translate(511.20 367.70) skewX(-15) scale(1.1497 0.8800) translate(0 -10)" fill="none" stroke="#231a17" stroke-width="0.966" stroke-linecap="round" stroke-linejoin="round"><path transform="translate(0.00 0)" d="M0,0 L1.8,10 L4.4,1.5 L7,10 L8.8,0"/><path transform="translate(10.40 0)" d="M0,4.4 L5.6,4.4 M2.8,1.4 L2.8,7.4 M0,9.6 L5.6,9.6"/><path transform="translate(17.60 0)" d="M0,0 L5.6,0 L2.8,4 Q5.6,4 5.6,7 Q5.6,10 3.2,10 L2.2,10 Q0,10 0,8.2"/><path transform="translate(24.80 0)" d="M0.5,9.2 L0.5,10"/><path transform="translate(27.80 0)" d="M2.2,0 L3.4,0 Q5.6,0 5.6,2.4 L5.6,7.6 Q5.6,10 3.4,10 L2.2,10 Q0,10 0,7.6 L0,2.4 Q0,0 2.2,0 Z"/></g>
<line x1="401" y1="369" x2="660" y2="369" stroke="#231a17" stroke-width="1.18"/>
<line x1="401" y1="365" x2="401" y2="423" stroke="#231a17" stroke-width="1.06"/>
<line x1="660" y1="366.4" x2="660" y2="391" stroke="#231a17" stroke-width="1.06"/>
<rect x="382" y="366.2" width="11" height="4.8" rx="1" fill="none" stroke="#231a17" stroke-width="0.94"/>
<line x1="385.8" y1="366.2" x2="385.8" y2="371" stroke="#231a17" stroke-width="0.71"/>
<line x1="389.4" y1="366.2" x2="389.4" y2="371" stroke="#231a17" stroke-width="0.71"/>
<path d="M427,384 L379,384 L379,412 L427,412" fill="none" stroke="#231a17" stroke-width="1.18" />
<line x1="427" y1="384" x2="427" y2="412" stroke="#231a17" stroke-width="1.06"/>
<path d="M427,384 L645.4,391.8 M427,412 L645.4,404.2" fill="none" stroke="#231a17" stroke-width="1.18" />
<circle cx="401" cy="398" r="11" fill="none" stroke="#231a17" stroke-width="1.30"/>
<path d="M401,390.6 L408.4,398 L401,405.4 L393.6,398 Z" fill="none" stroke="#231a17" stroke-width="1.18" />
<path d="M413,384 L413,379.6 Q413,373 419.8,373 Q426.6,373 426.6,379.6 L426.6,384" fill="none" stroke="#231a17" stroke-width="1.18" />
<circle cx="419.6" cy="378.6" r="2.4" fill="none" stroke="#231a17" stroke-width="1.06"/>
<line x1="369" y1="398" x2="380" y2="398" stroke="#231a17" stroke-width="1.00"/>
<line x1="408" y1="398" x2="671" y2="398" stroke="#231a17" stroke-width="1.00"/>
<line x1="379.4" y1="397.7" x2="394.4" y2="397.7" stroke="#231a17" stroke-width="2.24"/>
<line x1="408.6" y1="397.7" x2="414.4" y2="397.7" stroke="#231a17" stroke-width="2.24"/>
<path d="M381.6,384.4 L381.6,390.5 L392.1,390.5 L392.1,384 M381.6,411.6 L381.6,406 L392.1,406 L392.1,412" fill="none" stroke="#231a17" stroke-width="1.00" />
<line x1="386.6" y1="384" x2="386.6" y2="412" stroke="#231a17" stroke-width="0.71"/>
<line x1="417" y1="393" x2="417" y2="404" stroke="#231a17" stroke-width="1.06"/>
<path d="M486.4,390.6 Q489.4,398 486.4,405.4" fill="none" stroke="#231a17" stroke-width="1.06" />
<circle cx="651.5" cy="397.8" r="8" fill="none" stroke="#231a17" stroke-width="1.30"/>
<circle cx="651.5" cy="397.8" r="2.7" fill="none" stroke="#231a17" stroke-width="1.06"/>
<line x1="651.5" y1="386" x2="651.5" y2="426" stroke="#231a17" stroke-width="0.94"/>
<rect x="384.4" y="417" width="5.6" height="22" rx="0" fill="none" stroke="#231a17" stroke-width="1.06"/>
<rect x="382" y="439" width="10" height="5.4" rx="0" fill="none" stroke="#231a17" stroke-width="1.06"/>
<line x1="387" y1="382" x2="387" y2="450" stroke="#231a17" stroke-width="0.71"/>
<line x1="369.4" y1="453" x2="382.4" y2="443.6" stroke="#231a17" stroke-width="1.06"/>
<circle cx="364.4" cy="455.6" r="5.8" fill="#fff" stroke="#231a17" stroke-width="1.18"/>
<text x="364.4" y="458.90000000000003" font-family="Liberation Serif" font-size="9.4" text-anchor="middle" fill="#3a322e" textLength="6.6" lengthAdjust="spacingAndGlyphs">22</text>
<line x1="627.5" y1="427.7" x2="619.2" y2="403" stroke="#231a17" stroke-width="1.06"/>
<circle cx="629.9" cy="433" r="5.8" fill="#fff" stroke="#231a17" stroke-width="1.18"/>
<text x="629.9" y="436.3" font-family="Liberation Serif" font-size="9.4" text-anchor="middle" fill="#3a322e" textLength="6.6" lengthAdjust="spacingAndGlyphs">23</text>
<text x="468.3" y="347.6" font-family="'Liberation Sans','Noto Sans CJK SC',sans-serif" font-size="12.4" letter-spacing="0.93" fill="#2a2220">普通手柄</text>
<text x="520.6" y="347.6" font-family="'Liberation Sans','Noto Sans CJK SC',sans-serif" font-size="12.4" fill="#2a2220">（</text>
<text x="533.8" y="348.5" font-family="Liberation Sans" font-size="12.4" fill="#2a2220" textLength="61.6" lengthAdjust="spacingAndGlyphs">DN15-DN50</text>
<text x="595.0" y="347.6" font-family="'Liberation Sans','Noto Sans CJK SC',sans-serif" font-size="12.4" fill="#2a2220">）</text>
<text x="444.3" y="433.6" font-family="'Liberation Sans','Noto Sans CJK SC',sans-serif" font-size="12.4" letter-spacing="0.93" fill="#2a2220">铸造手柄</text>
<text x="496.6" y="433.6" font-family="'Liberation Sans','Noto Sans CJK SC',sans-serif" font-size="12.4" fill="#2a2220">（</text>
<text x="509.8" y="434.5" font-family="Liberation Sans" font-size="12.4" fill="#2a2220" textLength="68" lengthAdjust="spacingAndGlyphs">DN15-DN100</text>
<text x="578.0" y="433.6" font-family="'Liberation Sans','Noto Sans CJK SC',sans-serif" font-size="12.4" fill="#2a2220">）</text>
</svg>
<div class="a" style="left:30.8px;top:474.2px;font-size:16.4px;line-height:20px;color:#2a2a2a;transform-origin:0 0;transform:scaleX(.935)">DIMENSION</div>
<div class="a" style="right:38.0px;top:474.4px;font-size:15.7px;line-height:20px;color:#2a2a2a">Unit:mm</div>
<div class="hd" style="left:31.5px;top:494.2px;width:679.8px;height:24.000000000000057px"></div>
<div class="sh" style="left:31.5px;top:542.49px;width:679.8px;height:12.14px"></div>
<div class="sh" style="left:31.5px;top:578.91px;width:679.8px;height:12.14px"></div>
<div class="sh" style="left:31.5px;top:615.34px;width:679.8px;height:12.14px"></div>
<div class="sh" style="left:31.5px;top:651.77px;width:679.8px;height:12.14px"></div>
<div class="ln" style="left:31.5px;top:529.84px;width:679.8px;height:1px"></div>
<div class="ln" style="left:31.5px;top:541.99px;width:679.8px;height:1px"></div>
<div class="ln" style="left:31.5px;top:554.13px;width:679.8px;height:1px"></div>
<div class="ln" style="left:31.5px;top:566.27px;width:679.8px;height:1px"></div>
<div class="ln" style="left:31.5px;top:578.41px;width:679.8px;height:1px"></div>
<div class="ln" style="left:31.5px;top:590.56px;width:679.8px;height:1px"></div>
<div class="ln" style="left:31.5px;top:602.70px;width:679.8px;height:1px"></div>
<div class="ln" style="left:31.5px;top:614.84px;width:679.8px;height:1px"></div>
<div class="ln" style="left:31.5px;top:626.99px;width:679.8px;height:1px"></div>
<div class="ln" style="left:31.5px;top:639.13px;width:679.8px;height:1px"></div>
<div class="ln" style="left:31.5px;top:651.27px;width:679.8px;height:1px"></div>
<div class="ln" style="left:31.5px;top:663.41px;width:679.8px;height:1px"></div>
<div class="ln" style="left:31.5px;top:675.56px;width:679.8px;height:1px"></div>
<div class="ln" style="left:82.80px;top:494.2px;width:1px;height:194.00000000000006px;background:#a6a6a0"></div>
<div class="ln" style="left:121.00px;top:494.2px;width:1px;height:194.00000000000006px;background:#a6a6a0"></div>
<div class="ln" style="left:159.00px;top:494.2px;width:1px;height:194.00000000000006px;background:#a6a6a0"></div>
<div class="ln" style="left:196.20px;top:494.2px;width:1px;height:194.00000000000006px;background:#a6a6a0"></div>
<div class="ln" style="left:333.20px;top:494.2px;width:1px;height:194.00000000000006px;background:#a6a6a0"></div>
<div class="ln" style="left:470.50px;top:494.2px;width:1px;height:194.00000000000006px;background:#a6a6a0"></div>
<div class="ln" style="left:607.30px;top:494.2px;width:1px;height:194.00000000000006px;background:#a6a6a0"></div>
<div class="ln" style="left:242.00px;top:506.0px;width:1px;height:182.20px;background:#a6a6a0"></div>
<div class="ln" style="left:287.80px;top:506.0px;width:1px;height:182.20px;background:#a6a6a0"></div>
<div class="ln" style="left:379.20px;top:506.0px;width:1px;height:182.20px;background:#a6a6a0"></div>
<div class="ln" style="left:425.30px;top:506.0px;width:1px;height:182.20px;background:#a6a6a0"></div>
<div class="ln" style="left:516.30px;top:506.0px;width:1px;height:182.20px;background:#a6a6a0"></div>
<div class="ln" style="left:561.90px;top:506.0px;width:1px;height:182.20px;background:#a6a6a0"></div>
<div class="ln" style="left:640.20px;top:506.0px;width:1px;height:182.20px;background:#a6a6a0"></div>
<div class="ln" style="left:672.20px;top:506.0px;width:1px;height:182.20px;background:#a6a6a0"></div>
<div class="dk" style="left:31.5px;top:493.10px;width:679.8px;height:1.3px"></div>
<div class="dk" style="left:31.5px;top:517.30px;width:679.8px;height:1.5px"></div>
<div class="dk" style="left:31.5px;top:687.50px;width:679.8px;height:1.6px"></div>
<div class="ln" style="left:196.7px;top:505.5px;width:137.3px;height:1px;background:#97916c"></div>
<div class="ln" style="left:334.0px;top:505.5px;width:137.0px;height:1px;background:#97916c"></div>
<div class="ln" style="left:471.0px;top:505.5px;width:137.5px;height:1px;background:#97916c"></div>
<div class="ln" style="left:608.5px;top:505.5px;width:102.79999999999995px;height:1px;background:#97916c"></div>
<div class="c" style="left:57.6px;top:500.00px;font-size:11.4px;color:#222;transform:translateX(-50%) scaleX(.84);-webkit-text-stroke:.25px #222">SIZE</div>
<div class="c" style="left:102.7px;top:499.90px;font-size:13.6px;color:#1e1e1e;">D</div>
<div class="c" style="left:141.0px;top:499.90px;font-size:13.6px;color:#1e1e1e;">L</div>
<div class="c" style="left:178.2px;top:499.90px;font-size:13.6px;color:#1e1e1e;">I</div>
<div class="c" style="left:265.3px;top:494.40px;font-size:11.5px;color:#1e1e1e;">&#216;C</div>
<div class="c" style="left:402.5px;top:494.40px;font-size:11.5px;color:#1e1e1e;">&#216;J</div>
<div class="c" style="left:539.7px;top:494.40px;font-size:11.5px;color:#1e1e1e;">&#216;E</div>
<div class="c" style="left:657.0px;top:494.20px;font-size:11.5px;color:#1e1e1e;">T</div>
<div class="c" style="left:219.8px;top:506.50px;font-size:10px;color:#1e1e1e;">PN16</div>
<div class="c" style="left:265.5px;top:506.50px;font-size:10px;color:#1e1e1e;">PN25</div>
<div class="c" style="left:311.3px;top:506.50px;font-size:10px;color:#1e1e1e;">PN40</div>
<div class="c" style="left:357.0px;top:506.50px;font-size:10px;color:#1e1e1e;">PN16</div>
<div class="c" style="left:402.7px;top:506.50px;font-size:10px;color:#1e1e1e;">PN25</div>
<div class="c" style="left:448.3px;top:506.50px;font-size:10px;color:#1e1e1e;">PN40</div>
<div class="c" style="left:494.0px;top:506.50px;font-size:10px;color:#1e1e1e;">PN16</div>
<div class="c" style="left:539.7px;top:506.50px;font-size:10px;color:#1e1e1e;">PN25</div>
<div class="c" style="left:585.3px;top:506.50px;font-size:10px;color:#1e1e1e;">PN40</div>
<div class="c" style="left:624.0px;top:506.50px;font-size:10px;color:#1e1e1e;">16</div>
<div class="c" style="left:656.5px;top:506.50px;font-size:10px;color:#1e1e1e;">25</div>
<div class="c" style="left:688.8px;top:506.50px;font-size:10px;color:#1e1e1e;">40</div>
<div class="c" style="left:57.2px;top:519.17px;font-size:10px;color:#1e1e1e;">DN15</div>
<div class="c" style="left:102.5px;top:519.17px;font-size:10px;color:#1e1e1e;">15</div>
<div class="c" style="left:141.0px;top:519.17px;font-size:10px;color:#1e1e1e;">130</div>
<div class="c" style="left:178.5px;top:519.17px;font-size:10px;color:#1e1e1e;">36</div>
<div class="c" style="left:219.8px;top:519.17px;font-size:10px;color:#1e1e1e;">46</div>
<div class="c" style="left:265.5px;top:519.17px;font-size:10px;color:#1e1e1e;">46</div>
<div class="c" style="left:311.3px;top:519.17px;font-size:10px;color:#1e1e1e;">46</div>
<div class="c" style="left:357.0px;top:519.17px;font-size:10px;color:#1e1e1e;">65</div>
<div class="c" style="left:402.7px;top:519.17px;font-size:10px;color:#1e1e1e;">65</div>
<div class="c" style="left:448.3px;top:519.17px;font-size:10px;color:#1e1e1e;">65</div>
<div class="c" style="left:494.0px;top:519.17px;font-size:10px;color:#1e1e1e;">95</div>
<div class="c" style="left:539.7px;top:519.17px;font-size:10px;color:#1e1e1e;">95</div>
<div class="c" style="left:585.3px;top:519.17px;font-size:10px;color:#1e1e1e;">95</div>
<div class="c" style="left:624.0px;top:519.17px;font-size:10px;color:#1e1e1e;">14</div>
<div class="c" style="left:656.5px;top:519.17px;font-size:10px;color:#1e1e1e;">14</div>
<div class="c" style="left:688.8px;top:519.17px;font-size:10px;color:#1e1e1e;">14</div>
<div class="c" style="left:57.2px;top:531.31px;font-size:10px;color:#1e1e1e;">DN20</div>
<div class="c" style="left:102.5px;top:531.31px;font-size:10px;color:#1e1e1e;">20</div>
<div class="c" style="left:141.0px;top:531.31px;font-size:10px;color:#1e1e1e;">130</div>
<div class="c" style="left:178.5px;top:531.31px;font-size:10px;color:#1e1e1e;">36</div>
<div class="c" style="left:219.8px;top:531.31px;font-size:10px;color:#1e1e1e;">56</div>
<div class="c" style="left:265.5px;top:531.31px;font-size:10px;color:#1e1e1e;">56</div>
<div class="c" style="left:311.3px;top:531.31px;font-size:10px;color:#1e1e1e;">56</div>
<div class="c" style="left:357.0px;top:531.31px;font-size:10px;color:#1e1e1e;">75</div>
<div class="c" style="left:402.7px;top:531.31px;font-size:10px;color:#1e1e1e;">75</div>
<div class="c" style="left:448.3px;top:531.31px;font-size:10px;color:#1e1e1e;">75</div>
<div class="c" style="left:494.0px;top:531.31px;font-size:10px;color:#1e1e1e;">105</div>
<div class="c" style="left:539.7px;top:531.31px;font-size:10px;color:#1e1e1e;">105</div>
<div class="c" style="left:585.3px;top:531.31px;font-size:10px;color:#1e1e1e;">105</div>
<div class="c" style="left:624.0px;top:531.31px;font-size:10px;color:#1e1e1e;">16</div>
<div class="c" style="left:656.5px;top:531.31px;font-size:10px;color:#1e1e1e;">16</div>
<div class="c" style="left:688.8px;top:531.31px;font-size:10px;color:#1e1e1e;">16</div>
<div class="c" style="left:57.2px;top:543.46px;font-size:10px;color:#1e1e1e;">DN25</div>
<div class="c" style="left:102.5px;top:543.46px;font-size:10px;color:#1e1e1e;">25</div>
<div class="c" style="left:141.0px;top:543.46px;font-size:10px;color:#1e1e1e;">140</div>
<div class="c" style="left:178.5px;top:543.46px;font-size:10px;color:#1e1e1e;">42</div>
<div class="c" style="left:219.8px;top:543.46px;font-size:10px;color:#1e1e1e;">65</div>
<div class="c" style="left:265.5px;top:543.46px;font-size:10px;color:#1e1e1e;">65</div>
<div class="c" style="left:311.3px;top:543.46px;font-size:10px;color:#1e1e1e;">65</div>
<div class="c" style="left:357.0px;top:543.46px;font-size:10px;color:#1e1e1e;">85</div>
<div class="c" style="left:402.7px;top:543.46px;font-size:10px;color:#1e1e1e;">85</div>
<div class="c" style="left:448.3px;top:543.46px;font-size:10px;color:#1e1e1e;">85</div>
<div class="c" style="left:494.0px;top:543.46px;font-size:10px;color:#1e1e1e;">115</div>
<div class="c" style="left:539.7px;top:543.46px;font-size:10px;color:#1e1e1e;">115</div>
<div class="c" style="left:585.3px;top:543.46px;font-size:10px;color:#1e1e1e;">115</div>
<div class="c" style="left:624.0px;top:543.46px;font-size:10px;color:#1e1e1e;">16</div>
<div class="c" style="left:656.5px;top:543.46px;font-size:10px;color:#1e1e1e;">16</div>
<div class="c" style="left:688.8px;top:543.46px;font-size:10px;color:#1e1e1e;">16</div>
<div class="c" style="left:57.2px;top:555.60px;font-size:10px;color:#1e1e1e;">DN32</div>
<div class="c" style="left:102.5px;top:555.60px;font-size:10px;color:#1e1e1e;">32</div>
<div class="c" style="left:141.0px;top:555.60px;font-size:10px;color:#1e1e1e;">165</div>
<div class="c" style="left:178.5px;top:555.60px;font-size:10px;color:#1e1e1e;">42</div>
<div class="c" style="left:219.8px;top:555.60px;font-size:10px;color:#1e1e1e;">76</div>
<div class="c" style="left:265.5px;top:555.60px;font-size:10px;color:#1e1e1e;">76</div>
<div class="c" style="left:311.3px;top:555.60px;font-size:10px;color:#1e1e1e;">76</div>
<div class="c" style="left:357.0px;top:555.60px;font-size:10px;color:#1e1e1e;">100</div>
<div class="c" style="left:402.7px;top:555.60px;font-size:10px;color:#1e1e1e;">100</div>
<div class="c" style="left:448.3px;top:555.60px;font-size:10px;color:#1e1e1e;">100</div>
<div class="c" style="left:494.0px;top:555.60px;font-size:10px;color:#1e1e1e;">140</div>
<div class="c" style="left:539.7px;top:555.60px;font-size:10px;color:#1e1e1e;">140</div>
<div class="c" style="left:585.3px;top:555.60px;font-size:10px;color:#1e1e1e;">140</div>
<div class="c" style="left:624.0px;top:555.60px;font-size:10px;color:#1e1e1e;">18</div>
<div class="c" style="left:656.5px;top:555.60px;font-size:10px;color:#1e1e1e;">18</div>
<div class="c" style="left:688.8px;top:555.60px;font-size:10px;color:#1e1e1e;">18</div>
<div class="c" style="left:57.2px;top:567.74px;font-size:10px;color:#1e1e1e;">DN40</div>
<div class="c" style="left:102.5px;top:567.74px;font-size:10px;color:#1e1e1e;">40</div>
<div class="c" style="left:141.0px;top:567.74px;font-size:10px;color:#1e1e1e;">165</div>
<div class="c" style="left:178.5px;top:567.74px;font-size:10px;color:#1e1e1e;">50</div>
<div class="c" style="left:219.8px;top:567.74px;font-size:10px;color:#1e1e1e;">84</div>
<div class="c" style="left:265.5px;top:567.74px;font-size:10px;color:#1e1e1e;">84</div>
<div class="c" style="left:311.3px;top:567.74px;font-size:10px;color:#1e1e1e;">84</div>
<div class="c" style="left:357.0px;top:567.74px;font-size:10px;color:#1e1e1e;">110</div>
<div class="c" style="left:402.7px;top:567.74px;font-size:10px;color:#1e1e1e;">110</div>
<div class="c" style="left:448.3px;top:567.74px;font-size:10px;color:#1e1e1e;">110</div>
<div class="c" style="left:494.0px;top:567.74px;font-size:10px;color:#1e1e1e;">150</div>
<div class="c" style="left:539.7px;top:567.74px;font-size:10px;color:#1e1e1e;">150</div>
<div class="c" style="left:585.3px;top:567.74px;font-size:10px;color:#1e1e1e;">150</div>
<div class="c" style="left:624.0px;top:567.74px;font-size:10px;color:#1e1e1e;">18</div>
<div class="c" style="left:656.5px;top:567.74px;font-size:10px;color:#1e1e1e;">18</div>
<div class="c" style="left:688.8px;top:567.74px;font-size:10px;color:#1e1e1e;">18</div>
<div class="c" style="left:57.2px;top:579.89px;font-size:10px;color:#1e1e1e;">DN50</div>
<div class="c" style="left:102.5px;top:579.89px;font-size:10px;color:#1e1e1e;">50</div>
<div class="c" style="left:141.0px;top:579.89px;font-size:10px;color:#1e1e1e;">203</div>
<div class="c" style="left:178.5px;top:579.89px;font-size:10px;color:#1e1e1e;">50</div>
<div class="c" style="left:219.8px;top:579.89px;font-size:10px;color:#1e1e1e;">99</div>
<div class="c" style="left:265.5px;top:579.89px;font-size:10px;color:#1e1e1e;">99</div>
<div class="c" style="left:311.3px;top:579.89px;font-size:10px;color:#1e1e1e;">99</div>
<div class="c" style="left:357.0px;top:579.89px;font-size:10px;color:#1e1e1e;">125</div>
<div class="c" style="left:402.7px;top:579.89px;font-size:10px;color:#1e1e1e;">125</div>
<div class="c" style="left:448.3px;top:579.89px;font-size:10px;color:#1e1e1e;">125</div>
<div class="c" style="left:494.0px;top:579.89px;font-size:10px;color:#1e1e1e;">165</div>
<div class="c" style="left:539.7px;top:579.89px;font-size:10px;color:#1e1e1e;">165</div>
<div class="c" style="left:585.3px;top:579.89px;font-size:10px;color:#1e1e1e;">165</div>
<div class="c" style="left:624.0px;top:579.89px;font-size:10px;color:#1e1e1e;">20</div>
<div class="c" style="left:656.5px;top:579.89px;font-size:10px;color:#1e1e1e;">20</div>
<div class="c" style="left:688.8px;top:579.89px;font-size:10px;color:#1e1e1e;">20</div>
<div class="c" style="left:57.2px;top:592.03px;font-size:10px;color:#1e1e1e;">DN65</div>
<div class="c" style="left:102.5px;top:592.03px;font-size:10px;color:#1e1e1e;">65</div>
<div class="c" style="left:141.0px;top:592.03px;font-size:10px;color:#1e1e1e;">222</div>
<div class="c" style="left:178.5px;top:592.03px;font-size:10px;color:#1e1e1e;">70</div>
<div class="c" style="left:219.8px;top:592.03px;font-size:10px;color:#1e1e1e;">118</div>
<div class="c" style="left:265.5px;top:592.03px;font-size:10px;color:#1e1e1e;">118</div>
<div class="c" style="left:311.3px;top:592.03px;font-size:10px;color:#1e1e1e;">118</div>
<div class="c" style="left:357.0px;top:592.03px;font-size:10px;color:#1e1e1e;">145</div>
<div class="c" style="left:402.7px;top:592.03px;font-size:10px;color:#1e1e1e;">145</div>
<div class="c" style="left:448.3px;top:592.03px;font-size:10px;color:#1e1e1e;">145</div>
<div class="c" style="left:494.0px;top:592.03px;font-size:10px;color:#1e1e1e;">185</div>
<div class="c" style="left:539.7px;top:592.03px;font-size:10px;color:#1e1e1e;">185</div>
<div class="c" style="left:585.3px;top:592.03px;font-size:10px;color:#1e1e1e;">185</div>
<div class="c" style="left:624.0px;top:592.03px;font-size:10px;color:#1e1e1e;">20</div>
<div class="c" style="left:656.5px;top:592.03px;font-size:10px;color:#1e1e1e;">20</div>
<div class="c" style="left:688.8px;top:592.03px;font-size:10px;color:#1e1e1e;">22</div>
<div class="c" style="left:57.2px;top:604.17px;font-size:10px;color:#1e1e1e;">DN80</div>
<div class="c" style="left:102.5px;top:604.17px;font-size:10px;color:#1e1e1e;">76</div>
<div class="c" style="left:141.0px;top:604.17px;font-size:10px;color:#1e1e1e;">241</div>
<div class="c" style="left:178.5px;top:604.17px;font-size:10px;color:#1e1e1e;">70</div>
<div class="c" style="left:219.8px;top:604.17px;font-size:10px;color:#1e1e1e;">132</div>
<div class="c" style="left:265.5px;top:604.17px;font-size:10px;color:#1e1e1e;">132</div>
<div class="c" style="left:311.3px;top:604.17px;font-size:10px;color:#1e1e1e;">132</div>
<div class="c" style="left:357.0px;top:604.17px;font-size:10px;color:#1e1e1e;">160</div>
<div class="c" style="left:402.7px;top:604.17px;font-size:10px;color:#1e1e1e;">160</div>
<div class="c" style="left:448.3px;top:604.17px;font-size:10px;color:#1e1e1e;">160</div>
<div class="c" style="left:494.0px;top:604.17px;font-size:10px;color:#1e1e1e;">200</div>
<div class="c" style="left:539.7px;top:604.17px;font-size:10px;color:#1e1e1e;">200</div>
<div class="c" style="left:585.3px;top:604.17px;font-size:10px;color:#1e1e1e;">200</div>
<div class="c" style="left:624.0px;top:604.17px;font-size:10px;color:#1e1e1e;">20</div>
<div class="c" style="left:656.5px;top:604.17px;font-size:10px;color:#1e1e1e;">20</div>
<div class="c" style="left:688.8px;top:604.17px;font-size:10px;color:#1e1e1e;">24</div>
<div class="c" style="left:57.2px;top:616.31px;font-size:10px;color:#1e1e1e;">DN100</div>
<div class="c" style="left:102.5px;top:616.31px;font-size:10px;color:#1e1e1e;">100</div>
<div class="c" style="left:141.0px;top:616.31px;font-size:10px;color:#1e1e1e;">305</div>
<div class="c" style="left:178.5px;top:616.31px;font-size:10px;color:#1e1e1e;">70</div>
<div class="c" style="left:219.8px;top:616.31px;font-size:10px;color:#1e1e1e;">156</div>
<div class="c" style="left:265.5px;top:616.31px;font-size:10px;color:#1e1e1e;">156</div>
<div class="c" style="left:311.3px;top:616.31px;font-size:10px;color:#1e1e1e;">156</div>
<div class="c" style="left:357.0px;top:616.31px;font-size:10px;color:#1e1e1e;">180</div>
<div class="c" style="left:402.7px;top:616.31px;font-size:10px;color:#1e1e1e;">190</div>
<div class="c" style="left:448.3px;top:616.31px;font-size:10px;color:#1e1e1e;">190</div>
<div class="c" style="left:494.0px;top:616.31px;font-size:10px;color:#1e1e1e;">220</div>
<div class="c" style="left:539.7px;top:616.31px;font-size:10px;color:#1e1e1e;">235</div>
<div class="c" style="left:585.3px;top:616.31px;font-size:10px;color:#1e1e1e;">235</div>
<div class="c" style="left:624.0px;top:616.31px;font-size:10px;color:#1e1e1e;">22</div>
<div class="c" style="left:656.5px;top:616.31px;font-size:10px;color:#1e1e1e;">22</div>
<div class="c" style="left:688.8px;top:616.31px;font-size:10px;color:#1e1e1e;">24</div>
<div class="c" style="left:57.2px;top:628.46px;font-size:10px;color:#1e1e1e;">DN125</div>
<div class="c" style="left:102.5px;top:628.46px;font-size:10px;color:#1e1e1e;">125</div>
<div class="c" style="left:141.0px;top:628.46px;font-size:10px;color:#1e1e1e;">356</div>
<div class="c" style="left:178.5px;top:628.46px;font-size:10px;color:#1e1e1e;">100</div>
<div class="c" style="left:219.8px;top:628.46px;font-size:10px;color:#1e1e1e;">184</div>
<div class="c" style="left:265.5px;top:628.46px;font-size:10px;color:#1e1e1e;">184</div>
<div class="c" style="left:311.3px;top:628.46px;font-size:10px;color:#1e1e1e;">184</div>
<div class="c" style="left:357.0px;top:628.46px;font-size:10px;color:#1e1e1e;">210</div>
<div class="c" style="left:402.7px;top:628.46px;font-size:10px;color:#1e1e1e;">220</div>
<div class="c" style="left:448.3px;top:628.46px;font-size:10px;color:#1e1e1e;">220</div>
<div class="c" style="left:494.0px;top:628.46px;font-size:10px;color:#1e1e1e;">250</div>
<div class="c" style="left:539.7px;top:628.46px;font-size:10px;color:#1e1e1e;">270</div>
<div class="c" style="left:585.3px;top:628.46px;font-size:10px;color:#1e1e1e;">270</div>
<div class="c" style="left:624.0px;top:628.46px;font-size:10px;color:#1e1e1e;">22</div>
<div class="c" style="left:656.5px;top:628.46px;font-size:10px;color:#1e1e1e;">22</div>
<div class="c" style="left:688.8px;top:628.46px;font-size:10px;color:#1e1e1e;">26</div>
<div class="c" style="left:57.2px;top:640.60px;font-size:10px;color:#1e1e1e;">DN150</div>
<div class="c" style="left:102.5px;top:640.60px;font-size:10px;color:#1e1e1e;">150</div>
<div class="c" style="left:141.0px;top:640.60px;font-size:10px;color:#1e1e1e;">394</div>
<div class="c" style="left:178.5px;top:640.60px;font-size:10px;color:#1e1e1e;">100</div>
<div class="c" style="left:219.8px;top:640.60px;font-size:10px;color:#1e1e1e;">211</div>
<div class="c" style="left:265.5px;top:640.60px;font-size:10px;color:#1e1e1e;">211</div>
<div class="c" style="left:311.3px;top:640.60px;font-size:10px;color:#1e1e1e;">211</div>
<div class="c" style="left:357.0px;top:640.60px;font-size:10px;color:#1e1e1e;">240</div>
<div class="c" style="left:402.7px;top:640.60px;font-size:10px;color:#1e1e1e;">250</div>
<div class="c" style="left:448.3px;top:640.60px;font-size:10px;color:#1e1e1e;">250</div>
<div class="c" style="left:494.0px;top:640.60px;font-size:10px;color:#1e1e1e;">285</div>
<div class="c" style="left:539.7px;top:640.60px;font-size:10px;color:#1e1e1e;">300</div>
<div class="c" style="left:585.3px;top:640.60px;font-size:10px;color:#1e1e1e;">300</div>
<div class="c" style="left:624.0px;top:640.60px;font-size:10px;color:#1e1e1e;">24</div>
<div class="c" style="left:656.5px;top:640.60px;font-size:10px;color:#1e1e1e;">24</div>
<div class="c" style="left:688.8px;top:640.60px;font-size:10px;color:#1e1e1e;">28</div>
<div class="c" style="left:57.2px;top:652.74px;font-size:10px;color:#1e1e1e;">DN200</div>
<div class="c" style="left:102.5px;top:652.74px;font-size:10px;color:#1e1e1e;">200</div>
<div class="c" style="left:141.0px;top:652.74px;font-size:10px;color:#1e1e1e;">457</div>
<div class="c" style="left:178.5px;top:652.74px;font-size:10px;color:#1e1e1e;">100</div>
<div class="c" style="left:219.8px;top:652.74px;font-size:10px;color:#1e1e1e;">266</div>
<div class="c" style="left:265.5px;top:652.74px;font-size:10px;color:#1e1e1e;">274</div>
<div class="c" style="left:311.3px;top:652.74px;font-size:10px;color:#1e1e1e;">284</div>
<div class="c" style="left:357.0px;top:652.74px;font-size:10px;color:#1e1e1e;">295</div>
<div class="c" style="left:402.7px;top:652.74px;font-size:10px;color:#1e1e1e;">310</div>
<div class="c" style="left:448.3px;top:652.74px;font-size:10px;color:#1e1e1e;">320</div>
<div class="c" style="left:494.0px;top:652.74px;font-size:10px;color:#1e1e1e;">340</div>
<div class="c" style="left:539.7px;top:652.74px;font-size:10px;color:#1e1e1e;">360</div>
<div class="c" style="left:585.3px;top:652.74px;font-size:10px;color:#1e1e1e;">375</div>
<div class="c" style="left:624.0px;top:652.74px;font-size:10px;color:#1e1e1e;">24</div>
<div class="c" style="left:656.5px;top:652.74px;font-size:10px;color:#1e1e1e;">30</div>
<div class="c" style="left:688.8px;top:652.74px;font-size:10px;color:#1e1e1e;">34</div>
<div class="c" style="left:57.2px;top:664.89px;font-size:10px;color:#1e1e1e;">DN250</div>
<div class="c" style="left:102.5px;top:664.89px;font-size:10px;color:#1e1e1e;">250</div>
<div class="c" style="left:141.0px;top:664.89px;font-size:10px;color:#1e1e1e;">533</div>
<div class="c" style="left:178.5px;top:664.89px;font-size:10px;color:#1e1e1e;">125</div>
<div class="c" style="left:219.8px;top:664.89px;font-size:10px;color:#1e1e1e;">319</div>
<div class="c" style="left:265.5px;top:664.89px;font-size:10px;color:#1e1e1e;">330</div>
<div class="c" style="left:311.3px;top:664.89px;font-size:10px;color:#1e1e1e;">345</div>
<div class="c" style="left:357.0px;top:664.89px;font-size:10px;color:#1e1e1e;">355</div>
<div class="c" style="left:402.7px;top:664.89px;font-size:10px;color:#1e1e1e;">370</div>
<div class="c" style="left:448.3px;top:664.89px;font-size:10px;color:#1e1e1e;">385</div>
<div class="c" style="left:494.0px;top:664.89px;font-size:10px;color:#1e1e1e;">405</div>
<div class="c" style="left:539.7px;top:664.89px;font-size:10px;color:#1e1e1e;">425</div>
<div class="c" style="left:585.3px;top:664.89px;font-size:10px;color:#1e1e1e;">450</div>
<div class="c" style="left:624.0px;top:664.89px;font-size:10px;color:#1e1e1e;">26</div>
<div class="c" style="left:656.5px;top:664.89px;font-size:10px;color:#1e1e1e;">32</div>
<div class="c" style="left:688.8px;top:664.89px;font-size:10px;color:#1e1e1e;">38</div>
<div class="c" style="left:57.2px;top:677.03px;font-size:10px;color:#1e1e1e;">DN300</div>
<div class="c" style="left:102.5px;top:677.03px;font-size:10px;color:#1e1e1e;">300</div>
<div class="c" style="left:141.0px;top:677.03px;font-size:10px;color:#1e1e1e;">610</div>
<div class="c" style="left:178.5px;top:677.03px;font-size:10px;color:#1e1e1e;">125</div>
<div class="c" style="left:219.8px;top:677.03px;font-size:10px;color:#1e1e1e;">370</div>
<div class="c" style="left:265.5px;top:677.03px;font-size:10px;color:#1e1e1e;">389</div>
<div class="c" style="left:311.3px;top:677.03px;font-size:10px;color:#1e1e1e;">409</div>
<div class="c" style="left:357.0px;top:677.03px;font-size:10px;color:#1e1e1e;">410</div>
<div class="c" style="left:402.7px;top:677.03px;font-size:10px;color:#1e1e1e;">430</div>
<div class="c" style="left:448.3px;top:677.03px;font-size:10px;color:#1e1e1e;">450</div>
<div class="c" style="left:494.0px;top:677.03px;font-size:10px;color:#1e1e1e;">460</div>
<div class="c" style="left:539.7px;top:677.03px;font-size:10px;color:#1e1e1e;">485</div>
<div class="c" style="left:585.3px;top:677.03px;font-size:10px;color:#1e1e1e;">515</div>
<div class="c" style="left:624.0px;top:677.03px;font-size:10px;color:#1e1e1e;">28</div>
<div class="c" style="left:656.5px;top:677.03px;font-size:10px;color:#1e1e1e;">34</div>
<div class="c" style="left:688.8px;top:677.03px;font-size:10px;color:#1e1e1e;">42</div>
<div class="hd" style="left:31.5px;top:700.2px;width:679.3px;height:23.199999999999932px"></div>
<div class="sh" style="left:31.5px;top:747.66px;width:679.3px;height:12.13px"></div>
<div class="sh" style="left:31.5px;top:784.04px;width:679.3px;height:12.13px"></div>
<div class="sh" style="left:31.5px;top:820.43px;width:679.3px;height:12.13px"></div>
<div class="sh" style="left:31.5px;top:856.81px;width:679.3px;height:12.13px"></div>
<div class="ln" style="left:31.5px;top:735.03px;width:679.3px;height:1px"></div>
<div class="ln" style="left:31.5px;top:747.16px;width:679.3px;height:1px"></div>
<div class="ln" style="left:31.5px;top:759.29px;width:679.3px;height:1px"></div>
<div class="ln" style="left:31.5px;top:771.41px;width:679.3px;height:1px"></div>
<div class="ln" style="left:31.5px;top:783.54px;width:679.3px;height:1px"></div>
<div class="ln" style="left:31.5px;top:795.67px;width:679.3px;height:1px"></div>
<div class="ln" style="left:31.5px;top:807.80px;width:679.3px;height:1px"></div>
<div class="ln" style="left:31.5px;top:819.93px;width:679.3px;height:1px"></div>
<div class="ln" style="left:31.5px;top:832.06px;width:679.3px;height:1px"></div>
<div class="ln" style="left:31.5px;top:844.19px;width:679.3px;height:1px"></div>
<div class="ln" style="left:31.5px;top:856.31px;width:679.3px;height:1px"></div>
<div class="ln" style="left:31.5px;top:868.44px;width:679.3px;height:1px"></div>
<div class="ln" style="left:31.5px;top:880.57px;width:679.3px;height:1px"></div>
<div class="ln" style="left:89.50px;top:700.2px;width:1px;height:193.0px;background:#a6a6a0"></div>
<div class="ln" style="left:224.50px;top:700.2px;width:1px;height:193.0px;background:#a6a6a0"></div>
<div class="ln" style="left:359.50px;top:700.2px;width:1px;height:193.0px;background:#a6a6a0"></div>
<div class="ln" style="left:399.50px;top:700.2px;width:1px;height:193.0px;background:#a6a6a0"></div>
<div class="ln" style="left:507.20px;top:700.2px;width:1px;height:193.0px;background:#a6a6a0"></div>
<div class="ln" style="left:551.50px;top:700.2px;width:1px;height:193.0px;background:#a6a6a0"></div>
<div class="ln" style="left:597.30px;top:700.2px;width:1px;height:193.0px;background:#a6a6a0"></div>
<div class="ln" style="left:648.30px;top:700.2px;width:1px;height:193.0px;background:#a6a6a0"></div>
<div class="ln" style="left:134.50px;top:711.7px;width:1px;height:181.50px;background:#a6a6a0"></div>
<div class="ln" style="left:179.50px;top:711.7px;width:1px;height:181.50px;background:#a6a6a0"></div>
<div class="ln" style="left:269.50px;top:711.7px;width:1px;height:181.50px;background:#a6a6a0"></div>
<div class="ln" style="left:314.50px;top:711.7px;width:1px;height:181.50px;background:#a6a6a0"></div>
<div class="ln" style="left:452.90px;top:711.7px;width:1px;height:84.47px;background:#a6a6a0"></div>
<div class="dk" style="left:31.5px;top:699.10px;width:679.3px;height:1.3px"></div>
<div class="dk" style="left:31.5px;top:722.50px;width:679.3px;height:1.5px"></div>
<div class="dk" style="left:31.5px;top:892.50px;width:679.3px;height:1.6px"></div>
<div class="ln" style="left:90.0px;top:711.2px;width:135.0px;height:1px;background:#97916c"></div>
<div class="ln" style="left:225.0px;top:711.2px;width:135.0px;height:1px;background:#97916c"></div>
<div class="ln" style="left:400.0px;top:711.2px;width:107.69999999999999px;height:1px;background:#97916c"></div>
<div class="c" style="left:57.6px;top:705.60px;font-size:11.4px;color:#222;transform:translateX(-50%) scaleX(.84);-webkit-text-stroke:.25px #222">SIZE</div>
<div class="c" style="left:157.5px;top:700.25px;font-size:11.5px;color:#1e1e1e;">N</div>
<div class="c" style="left:292.5px;top:700.25px;font-size:11.5px;color:#1e1e1e;">&#216;h</div>
<div class="c" style="left:381.0px;top:706.30px;font-size:13.5px;color:#1e1e1e;">f</div>
<div class="c" style="left:456.0px;top:699.15px;font-size:10.5px;color:#1e1e1e;">w</div>
<div class="c" style="left:529.7px;top:706.10px;font-size:11.6px;color:#1e1e1e;">A</div>
<div class="c" style="left:575.0px;top:706.10px;font-size:11.6px;color:#1e1e1e;"><span style="font-size:9px;position:relative;top:-0.3px;margin-right:.6px">&#9633;</span>P</div>
<div class="c" style="left:623.0px;top:706.10px;font-size:11.6px;color:#1e1e1e;">H</div>
<div class="c" style="left:684.4px;top:705.90px;font-size:11.2px;color:#222;transform:translateX(-50%) scaleX(.93);-webkit-text-stroke:.15px #222">ISO 5211</div>
<div class="c" style="left:112.5px;top:712.15px;font-size:10px;color:#1e1e1e;">16</div>
<div class="c" style="left:157.5px;top:712.15px;font-size:10px;color:#1e1e1e;">25</div>
<div class="c" style="left:202.5px;top:712.15px;font-size:10px;color:#1e1e1e;">40</div>
<div class="c" style="left:247.5px;top:712.15px;font-size:10px;color:#1e1e1e;">16</div>
<div class="c" style="left:292.5px;top:712.15px;font-size:10px;color:#1e1e1e;">25</div>
<div class="c" style="left:337.5px;top:712.15px;font-size:10px;color:#1e1e1e;">40</div>
<div class="a" style="left:417.50px;top:713.05px;font-family:'Liberation Sans','Noto Sans CJK SC',sans-serif;font-size:9.2px;line-height:11.04px;color:#333">普通</div>
<div class="a" style="left:471.40px;top:713.05px;font-family:'Liberation Sans','Noto Sans CJK SC',sans-serif;font-size:9.2px;line-height:11.04px;color:#333">铸造</div>
<div class="c" style="left:57.2px;top:724.16px;font-size:10px;color:#1e1e1e;">DN15</div>
<div class="c" style="left:112.5px;top:724.96px;font-size:10px;color:#1e1e1e;">4</div>
<div class="c" style="left:157.5px;top:724.96px;font-size:10px;color:#1e1e1e;">4</div>
<div class="c" style="left:202.5px;top:724.96px;font-size:10px;color:#1e1e1e;">4</div>
<div class="c" style="left:247.5px;top:724.96px;font-size:10px;color:#1e1e1e;">14</div>
<div class="c" style="left:292.5px;top:724.96px;font-size:10px;color:#1e1e1e;">14</div>
<div class="c" style="left:337.5px;top:724.96px;font-size:10px;color:#1e1e1e;">14</div>
<div class="c" style="left:380.5px;top:725.36px;font-size:10.5px;color:#1e1e1e;">2</div>
<div class="c" style="left:426.4px;top:724.96px;font-size:10px;color:#1e1e1e;">120</div>
<div class="c" style="left:479.7px;top:724.96px;font-size:10px;color:#1e1e1e;">124</div>
<div class="c" style="left:529.7px;top:723.96px;font-size:10.5px;color:#1e1e1e;">9</div>
<div class="c" style="left:574.6px;top:723.96px;font-size:10.5px;color:#1e1e1e;">9</div>
<div class="c" style="left:623.0px;top:723.96px;font-size:10.5px;color:#1e1e1e;">49</div>
<div class="c" style="left:684.4px;top:723.76px;font-size:10px;color:#1e1e1e;">F03/F05</div>
<div class="c" style="left:57.2px;top:736.34px;font-size:10px;color:#1e1e1e;">DN20</div>
<div class="c" style="left:112.5px;top:737.09px;font-size:10px;color:#1e1e1e;">4</div>
<div class="c" style="left:157.5px;top:737.09px;font-size:10px;color:#1e1e1e;">4</div>
<div class="c" style="left:202.5px;top:737.09px;font-size:10px;color:#1e1e1e;">4</div>
<div class="c" style="left:247.5px;top:737.09px;font-size:10px;color:#1e1e1e;">14</div>
<div class="c" style="left:292.5px;top:737.09px;font-size:10px;color:#1e1e1e;">14</div>
<div class="c" style="left:337.5px;top:737.09px;font-size:10px;color:#1e1e1e;">14</div>
<div class="c" style="left:380.5px;top:737.49px;font-size:10.5px;color:#1e1e1e;">2</div>
<div class="c" style="left:426.4px;top:737.09px;font-size:10px;color:#1e1e1e;">120</div>
<div class="c" style="left:479.7px;top:737.09px;font-size:10px;color:#1e1e1e;">124</div>
<div class="c" style="left:529.7px;top:736.17px;font-size:10.5px;color:#1e1e1e;">9</div>
<div class="c" style="left:574.6px;top:736.17px;font-size:10.5px;color:#1e1e1e;">9</div>
<div class="c" style="left:623.0px;top:736.17px;font-size:10.5px;color:#1e1e1e;">54</div>
<div class="c" style="left:684.4px;top:735.99px;font-size:10px;color:#1e1e1e;">F03/F05</div>
<div class="c" style="left:57.2px;top:748.51px;font-size:10px;color:#1e1e1e;">DN25</div>
<div class="c" style="left:112.5px;top:749.22px;font-size:10px;color:#1e1e1e;">4</div>
<div class="c" style="left:157.5px;top:749.22px;font-size:10px;color:#1e1e1e;">4</div>
<div class="c" style="left:202.5px;top:749.22px;font-size:10px;color:#1e1e1e;">4</div>
<div class="c" style="left:247.5px;top:749.22px;font-size:10px;color:#1e1e1e;">14</div>
<div class="c" style="left:292.5px;top:749.22px;font-size:10px;color:#1e1e1e;">14</div>
<div class="c" style="left:337.5px;top:749.22px;font-size:10px;color:#1e1e1e;">14</div>
<div class="c" style="left:380.5px;top:749.62px;font-size:10.5px;color:#1e1e1e;">2</div>
<div class="c" style="left:426.4px;top:749.22px;font-size:10px;color:#1e1e1e;">152</div>
<div class="c" style="left:479.7px;top:749.22px;font-size:10px;color:#1e1e1e;">187</div>
<div class="c" style="left:529.7px;top:748.38px;font-size:10.5px;color:#1e1e1e;">11</div>
<div class="c" style="left:574.6px;top:748.38px;font-size:10.5px;color:#1e1e1e;">11</div>
<div class="c" style="left:623.0px;top:748.38px;font-size:10.5px;color:#1e1e1e;">58.5</div>
<div class="c" style="left:684.4px;top:748.22px;font-size:10px;color:#1e1e1e;">F04/F05</div>
<div class="c" style="left:57.2px;top:760.69px;font-size:10px;color:#1e1e1e;">DN32</div>
<div class="c" style="left:112.5px;top:761.35px;font-size:10px;color:#1e1e1e;">4</div>
<div class="c" style="left:157.5px;top:761.35px;font-size:10px;color:#1e1e1e;">4</div>
<div class="c" style="left:202.5px;top:761.35px;font-size:10px;color:#1e1e1e;">4</div>
<div class="c" style="left:247.5px;top:761.35px;font-size:10px;color:#1e1e1e;">18</div>
<div class="c" style="left:292.5px;top:761.35px;font-size:10px;color:#1e1e1e;">18</div>
<div class="c" style="left:337.5px;top:761.35px;font-size:10px;color:#1e1e1e;">18</div>
<div class="c" style="left:380.5px;top:761.75px;font-size:10.5px;color:#1e1e1e;">2</div>
<div class="c" style="left:426.4px;top:761.35px;font-size:10px;color:#1e1e1e;">152</div>
<div class="c" style="left:479.7px;top:761.35px;font-size:10px;color:#1e1e1e;">187</div>
<div class="c" style="left:529.7px;top:760.58px;font-size:10.5px;color:#1e1e1e;">10</div>
<div class="c" style="left:574.6px;top:760.58px;font-size:10.5px;color:#1e1e1e;">11</div>
<div class="c" style="left:623.0px;top:760.58px;font-size:10.5px;color:#1e1e1e;">71</div>
<div class="c" style="left:684.4px;top:760.45px;font-size:10px;color:#1e1e1e;">F04/F05</div>
<div class="c" style="left:57.2px;top:772.86px;font-size:10px;color:#1e1e1e;">DN40</div>
<div class="c" style="left:112.5px;top:773.48px;font-size:10px;color:#1e1e1e;">4</div>
<div class="c" style="left:157.5px;top:773.48px;font-size:10px;color:#1e1e1e;">4</div>
<div class="c" style="left:202.5px;top:773.48px;font-size:10px;color:#1e1e1e;">4</div>
<div class="c" style="left:247.5px;top:773.48px;font-size:10px;color:#1e1e1e;">18</div>
<div class="c" style="left:292.5px;top:773.48px;font-size:10px;color:#1e1e1e;">18</div>
<div class="c" style="left:337.5px;top:773.48px;font-size:10px;color:#1e1e1e;">18</div>
<div class="c" style="left:380.5px;top:773.88px;font-size:10.5px;color:#1e1e1e;">2</div>
<div class="c" style="left:426.4px;top:773.48px;font-size:10px;color:#1e1e1e;">190</div>
<div class="c" style="left:479.7px;top:773.48px;font-size:10px;color:#1e1e1e;">220</div>
<div class="c" style="left:529.7px;top:772.79px;font-size:10.5px;color:#1e1e1e;">14</div>
<div class="c" style="left:574.6px;top:772.79px;font-size:10.5px;color:#1e1e1e;">14</div>
<div class="c" style="left:623.0px;top:772.79px;font-size:10.5px;color:#1e1e1e;">78</div>
<div class="c" style="left:684.4px;top:772.68px;font-size:10px;color:#1e1e1e;">F05/F07</div>
<div class="c" style="left:57.2px;top:785.04px;font-size:10px;color:#1e1e1e;">DN50</div>
<div class="c" style="left:112.5px;top:785.61px;font-size:10px;color:#1e1e1e;">4</div>
<div class="c" style="left:157.5px;top:785.61px;font-size:10px;color:#1e1e1e;">4</div>
<div class="c" style="left:202.5px;top:785.61px;font-size:10px;color:#1e1e1e;">4</div>
<div class="c" style="left:247.5px;top:785.61px;font-size:10px;color:#1e1e1e;">18</div>
<div class="c" style="left:292.5px;top:785.61px;font-size:10px;color:#1e1e1e;">18</div>
<div class="c" style="left:337.5px;top:785.61px;font-size:10px;color:#1e1e1e;">18</div>
<div class="c" style="left:380.5px;top:786.01px;font-size:10.5px;color:#1e1e1e;">2</div>
<div class="c" style="left:426.4px;top:785.61px;font-size:10px;color:#1e1e1e;">190</div>
<div class="c" style="left:479.7px;top:785.61px;font-size:10px;color:#1e1e1e;">220</div>
<div class="c" style="left:529.7px;top:784.99px;font-size:10.5px;color:#1e1e1e;">14</div>
<div class="c" style="left:574.6px;top:784.99px;font-size:10.5px;color:#1e1e1e;">14</div>
<div class="c" style="left:623.0px;top:784.99px;font-size:10.5px;color:#1e1e1e;">85.8</div>
<div class="c" style="left:684.4px;top:784.91px;font-size:10px;color:#1e1e1e;">F05/F07</div>
<div class="c" style="left:57.2px;top:797.21px;font-size:10px;color:#1e1e1e;">DN65</div>
<div class="c" style="left:112.5px;top:797.74px;font-size:10px;color:#1e1e1e;">4</div>
<div class="c" style="left:157.5px;top:797.74px;font-size:10px;color:#1e1e1e;">4</div>
<div class="c" style="left:202.5px;top:797.74px;font-size:10px;color:#1e1e1e;">8</div>
<div class="c" style="left:247.5px;top:797.74px;font-size:10px;color:#1e1e1e;">18</div>
<div class="c" style="left:292.5px;top:797.74px;font-size:10px;color:#1e1e1e;">18</div>
<div class="c" style="left:337.5px;top:797.74px;font-size:10px;color:#1e1e1e;">18</div>
<div class="c" style="left:380.5px;top:798.14px;font-size:10.5px;color:#1e1e1e;">2</div>
<div class="c" style="left:453.6px;top:797.74px;font-size:10px;color:#1e1e1e;">350</div>
<div class="c" style="left:529.7px;top:797.20px;font-size:10.5px;color:#1e1e1e;">14</div>
<div class="c" style="left:574.6px;top:797.20px;font-size:10.5px;color:#1e1e1e;">17</div>
<div class="c" style="left:623.0px;top:797.20px;font-size:10.5px;color:#1e1e1e;">114</div>
<div class="c" style="left:684.4px;top:797.14px;font-size:10px;color:#1e1e1e;">F07/F10</div>
<div class="c" style="left:57.2px;top:809.39px;font-size:10px;color:#1e1e1e;">DN80</div>
<div class="c" style="left:112.5px;top:809.86px;font-size:10px;color:#1e1e1e;">8</div>
<div class="c" style="left:157.5px;top:809.86px;font-size:10px;color:#1e1e1e;">8</div>
<div class="c" style="left:202.5px;top:809.86px;font-size:10px;color:#1e1e1e;">8</div>
<div class="c" style="left:247.5px;top:809.86px;font-size:10px;color:#1e1e1e;">18</div>
<div class="c" style="left:292.5px;top:809.86px;font-size:10px;color:#1e1e1e;">18</div>
<div class="c" style="left:337.5px;top:809.86px;font-size:10px;color:#1e1e1e;">18</div>
<div class="c" style="left:380.5px;top:810.26px;font-size:10.5px;color:#1e1e1e;">2</div>
<div class="c" style="left:453.6px;top:809.86px;font-size:10px;color:#1e1e1e;">350</div>
<div class="c" style="left:529.7px;top:809.40px;font-size:10.5px;color:#1e1e1e;">14</div>
<div class="c" style="left:574.6px;top:809.40px;font-size:10.5px;color:#1e1e1e;">17</div>
<div class="c" style="left:623.0px;top:809.40px;font-size:10.5px;color:#1e1e1e;">122</div>
<div class="c" style="left:684.4px;top:809.36px;font-size:10px;color:#1e1e1e;">F07/F10</div>
<div class="c" style="left:57.2px;top:821.56px;font-size:10px;color:#1e1e1e;">DN100</div>
<div class="c" style="left:112.5px;top:821.99px;font-size:10px;color:#1e1e1e;">8</div>
<div class="c" style="left:157.5px;top:821.99px;font-size:10px;color:#1e1e1e;">8</div>
<div class="c" style="left:202.5px;top:821.99px;font-size:10px;color:#1e1e1e;">8</div>
<div class="c" style="left:247.5px;top:821.99px;font-size:10px;color:#1e1e1e;">18</div>
<div class="c" style="left:292.5px;top:821.99px;font-size:10px;color:#1e1e1e;">18</div>
<div class="c" style="left:337.5px;top:821.99px;font-size:10px;color:#1e1e1e;">22</div>
<div class="c" style="left:380.5px;top:822.39px;font-size:10.5px;color:#1e1e1e;">2</div>
<div class="c" style="left:453.6px;top:821.99px;font-size:10px;color:#1e1e1e;">350</div>
<div class="c" style="left:529.7px;top:821.61px;font-size:10.5px;color:#1e1e1e;">17</div>
<div class="c" style="left:574.6px;top:821.61px;font-size:10.5px;color:#1e1e1e;">17</div>
<div class="c" style="left:623.0px;top:821.61px;font-size:10.5px;color:#1e1e1e;">135</div>
<div class="c" style="left:684.4px;top:821.59px;font-size:10px;color:#1e1e1e;">F07/F10</div>
<div class="c" style="left:57.2px;top:833.74px;font-size:10px;color:#1e1e1e;">DN125</div>
<div class="c" style="left:112.5px;top:834.12px;font-size:10px;color:#1e1e1e;">8</div>
<div class="c" style="left:157.5px;top:834.12px;font-size:10px;color:#1e1e1e;">8</div>
<div class="c" style="left:202.5px;top:834.12px;font-size:10px;color:#1e1e1e;">8</div>
<div class="c" style="left:247.5px;top:834.12px;font-size:10px;color:#1e1e1e;">18</div>
<div class="c" style="left:292.5px;top:834.12px;font-size:10px;color:#1e1e1e;">18</div>
<div class="c" style="left:337.5px;top:834.12px;font-size:10px;color:#1e1e1e;">26</div>
<div class="c" style="left:380.5px;top:834.52px;font-size:10.5px;color:#1e1e1e;">2</div>
<div class="c" style="left:453.6px;top:834.12px;font-size:10px;color:#1e1e1e;">400</div>
<div class="c" style="left:529.7px;top:833.81px;font-size:10.5px;color:#1e1e1e;">22</div>
<div class="c" style="left:574.6px;top:833.81px;font-size:10.5px;color:#1e1e1e;">22</div>
<div class="c" style="left:623.0px;top:833.81px;font-size:10.5px;color:#1e1e1e;">164</div>
<div class="c" style="left:684.4px;top:833.82px;font-size:10px;color:#1e1e1e;">F10/F12</div>
<div class="c" style="left:57.2px;top:845.91px;font-size:10px;color:#1e1e1e;">DN150</div>
<div class="c" style="left:112.5px;top:846.25px;font-size:10px;color:#1e1e1e;">8</div>
<div class="c" style="left:157.5px;top:846.25px;font-size:10px;color:#1e1e1e;">8</div>
<div class="c" style="left:202.5px;top:846.25px;font-size:10px;color:#1e1e1e;">8</div>
<div class="c" style="left:247.5px;top:846.25px;font-size:10px;color:#1e1e1e;">22</div>
<div class="c" style="left:292.5px;top:846.25px;font-size:10px;color:#1e1e1e;">22</div>
<div class="c" style="left:337.5px;top:846.25px;font-size:10px;color:#1e1e1e;">26</div>
<div class="c" style="left:380.5px;top:846.65px;font-size:10.5px;color:#1e1e1e;">2</div>
<div class="c" style="left:453.6px;top:846.25px;font-size:10px;color:#1e1e1e;">600</div>
<div class="c" style="left:529.7px;top:846.02px;font-size:10.5px;color:#1e1e1e;">27</div>
<div class="c" style="left:574.6px;top:846.02px;font-size:10.5px;color:#1e1e1e;">27</div>
<div class="c" style="left:623.0px;top:846.02px;font-size:10.5px;color:#1e1e1e;">204</div>
<div class="c" style="left:684.4px;top:846.05px;font-size:10px;color:#1e1e1e;">F10/F12</div>
<div class="c" style="left:57.2px;top:858.09px;font-size:10px;color:#1e1e1e;">DN200</div>
<div class="c" style="left:112.5px;top:858.38px;font-size:10px;color:#1e1e1e;">12</div>
<div class="c" style="left:157.5px;top:858.38px;font-size:10px;color:#1e1e1e;">12</div>
<div class="c" style="left:202.5px;top:858.38px;font-size:10px;color:#1e1e1e;">12</div>
<div class="c" style="left:247.5px;top:858.38px;font-size:10px;color:#1e1e1e;">22</div>
<div class="c" style="left:292.5px;top:858.38px;font-size:10px;color:#1e1e1e;">26</div>
<div class="c" style="left:337.5px;top:858.38px;font-size:10px;color:#1e1e1e;">30</div>
<div class="c" style="left:380.5px;top:858.78px;font-size:10.5px;color:#1e1e1e;">2</div>
<div class="c" style="left:453.6px;top:858.38px;font-size:10px;color:#1e1e1e;">600</div>
<div class="c" style="left:529.7px;top:858.22px;font-size:10.5px;color:#1e1e1e;">27</div>
<div class="c" style="left:574.6px;top:858.22px;font-size:10.5px;color:#1e1e1e;">27</div>
<div class="c" style="left:623.0px;top:858.22px;font-size:10.5px;color:#1e1e1e;">256</div>
<div class="c" style="left:684.4px;top:858.28px;font-size:10px;color:#1e1e1e;">F10/F12</div>
<div class="c" style="left:57.2px;top:870.26px;font-size:10px;color:#1e1e1e;">DN250</div>
<div class="c" style="left:112.5px;top:870.51px;font-size:10px;color:#1e1e1e;">12</div>
<div class="c" style="left:157.5px;top:870.51px;font-size:10px;color:#1e1e1e;">12</div>
<div class="c" style="left:202.5px;top:870.51px;font-size:10px;color:#1e1e1e;">12</div>
<div class="c" style="left:247.5px;top:870.51px;font-size:10px;color:#1e1e1e;">26</div>
<div class="c" style="left:292.5px;top:870.51px;font-size:10px;color:#1e1e1e;">30</div>
<div class="c" style="left:337.5px;top:870.51px;font-size:10px;color:#1e1e1e;">33</div>
<div class="c" style="left:380.5px;top:870.91px;font-size:10.5px;color:#1e1e1e;">2</div>
<div class="c" style="left:453.6px;top:870.51px;font-size:10px;color:#1e1e1e;">400</div>
<div class="c" style="left:529.7px;top:870.43px;font-size:10.5px;color:#1e1e1e;">42</div>
<div class="c" style="left:574.6px;top:870.43px;font-size:10.5px;color:#1e1e1e;">36</div>
<div class="c" style="left:623.0px;top:870.43px;font-size:10.5px;color:#1e1e1e;">325</div>
<div class="c" style="left:684.4px;top:870.51px;font-size:10px;color:#1e1e1e;">F12</div>
<div class="c" style="left:57.2px;top:882.44px;font-size:10px;color:#1e1e1e;">DN300</div>
<div class="c" style="left:112.5px;top:882.64px;font-size:10px;color:#1e1e1e;">12</div>
<div class="c" style="left:157.5px;top:882.64px;font-size:10px;color:#1e1e1e;">16</div>
<div class="c" style="left:202.5px;top:882.64px;font-size:10px;color:#1e1e1e;">16</div>
<div class="c" style="left:247.5px;top:882.64px;font-size:10px;color:#1e1e1e;">26</div>
<div class="c" style="left:292.5px;top:882.64px;font-size:10px;color:#1e1e1e;">30</div>
<div class="c" style="left:337.5px;top:882.64px;font-size:10px;color:#1e1e1e;">33</div>
<div class="c" style="left:380.5px;top:883.04px;font-size:10.5px;color:#1e1e1e;">2</div>
<div class="c" style="left:453.6px;top:882.64px;font-size:10px;color:#1e1e1e;">400</div>
<div class="c" style="left:529.7px;top:882.64px;font-size:10.5px;color:#1e1e1e;">42</div>
<div class="c" style="left:574.6px;top:882.64px;font-size:10.5px;color:#1e1e1e;">36</div>
<div class="c" style="left:623.0px;top:882.64px;font-size:10.5px;color:#1e1e1e;">415</div>
<div class="c" style="left:684.4px;top:882.74px;font-size:10px;color:#1e1e1e;">F14</div>
</body></html>
